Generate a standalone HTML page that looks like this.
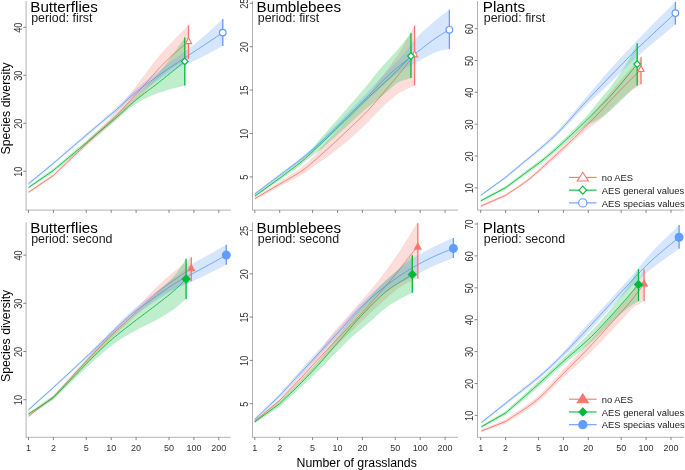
<!DOCTYPE html><html><head><meta charset="utf-8"><style>html,body{margin:0;padding:0;background:#fff;}svg{display:block;will-change:transform;}text{font-family:"Liberation Sans", sans-serif;}</style></head><body>
<svg width="685" height="470" viewBox="0 0 685 470">
<rect width="685" height="470" fill="#fff"/>
<path d="M28.5,192.3L53.4,175.5L54.92,174.04L56.45,172.58L57.98,171.12L59.5,169.67L61.02,168.21L62.55,166.75L64.08,165.29L65.6,163.83L67.12,162.37L68.65,160.91L70.17,159.45L71.7,157.99L73.22,156.54L74.75,155.08L76.28,153.62L77.8,152.16L79.33,150.7L80.85,149.24L82.38,147.79L83.9,146.33L85.42,144.87L86.95,143.41L88.47,141.96L90,140.5L91.53,139.04L93.06,137.6L94.59,136.16L96.12,134.72L97.65,133.29L99.18,131.86L100.71,130.43L102.24,129L103.76,127.56L105.29,126.12L106.82,124.67L108.35,123.21L109.88,121.74L111.41,120.25L112.94,118.75L114.47,117.24L116,115.7L117.51,114.16L119.03,112.6L120.54,111.01L122.06,109.42L123.57,107.8L125.09,106.18L126.6,104.54L128.11,102.9L129.63,101.25L131.14,99.6L132.66,97.95L134.17,96.3L135.69,94.65L137.2,93L138.73,91.33L140.26,89.63L141.79,87.92L143.33,86.19L144.86,84.46L146.39,82.71L147.92,80.96L149.45,79.22L150.98,77.47L152.52,75.73L154.05,74.01L155.58,72.29L157.11,70.6L158.64,68.92L160.17,67.28L161.71,65.65L163.24,64.07L164.77,62.51L166.3,61L167.89,59.47L169.47,57.99L171.06,56.53L172.64,55.1L174.23,53.7L175.81,52.31L177.4,50.95L178.99,49.59L180.57,48.23L182.16,46.88L183.74,45.53L185.33,44.16L186.91,42.79L188.5,41.4" fill="none" stroke="#F8766D" stroke-width="0.9" stroke-linejoin="round"/>
<path d="M28.5,187.6L53.4,170.4L54.92,169.12L56.45,167.84L57.98,166.56L59.5,165.29L61.02,164.01L62.55,162.73L64.08,161.45L65.6,160.18L67.12,158.9L68.65,157.62L70.17,156.35L71.7,155.07L73.22,153.79L74.75,152.51L76.28,151.23L77.8,149.95L79.33,148.67L80.85,147.39L82.38,146.11L83.9,144.83L85.42,143.55L86.95,142.27L88.47,140.98L90,139.7L91.53,138.41L93.06,137.13L94.59,135.84L96.12,134.56L97.65,133.28L99.18,132L100.71,130.71L102.24,129.43L103.76,128.14L105.29,126.85L106.82,125.56L108.35,124.26L109.88,122.96L111.41,121.66L112.94,120.34L114.47,119.03L116,117.7L117.61,116.29L119.22,114.85L120.83,113.4L122.43,111.94L124.04,110.47L125.65,109L127.26,107.54L128.87,106.08L130.48,104.65L132.08,103.24L133.69,101.85L135.3,100.5L136.84,99.23L138.39,97.99L139.93,96.77L141.48,95.57L143.02,94.38L144.56,93.21L146.11,92.04L147.65,90.88L149.19,89.73L150.74,88.57L152.28,87.41L153.82,86.25L155.37,85.08L156.91,83.9L158.46,82.71L160,81.5L161.56,80.27L163.11,79.03L164.67,77.78L166.22,76.53L167.78,75.27L169.34,74L170.89,72.74L172.45,71.47L174.01,70.2L175.56,68.92L177.12,67.65L178.68,66.38L180.23,65.1L181.79,63.83L183.34,62.56L184.9,61.3" fill="none" stroke="#00BA38" stroke-width="0.9" stroke-linejoin="round"/>
<path d="M28.5,183.8L53.4,163.3L54.92,161.99L56.45,160.68L57.98,159.37L59.5,158.06L61.02,156.75L62.55,155.43L64.08,154.12L65.6,152.81L67.12,151.49L68.65,150.18L70.17,148.87L71.7,147.55L73.22,146.24L74.75,144.93L76.28,143.62L77.8,142.31L79.33,141L80.85,139.7L82.38,138.39L83.9,137.09L85.42,135.79L86.95,134.49L88.47,133.19L90,131.9L91.53,130.6L93.07,129.32L94.6,128.03L96.13,126.76L97.67,125.48L99.2,124.21L100.73,122.93L102.27,121.66L103.8,120.38L105.33,119.1L106.87,117.82L108.4,116.53L109.93,115.23L111.47,113.92L113,112.6L114.57,111.23L116.14,109.83L117.71,108.41L119.29,106.98L120.86,105.54L122.43,104.09L124,102.65L125.57,101.21L127.14,99.79L128.71,98.37L130.29,96.99L131.86,95.62L133.43,94.29L135,93L136.56,91.74L138.12,90.51L139.69,89.29L141.25,88.09L142.81,86.9L144.38,85.73L145.94,84.57L147.5,83.42L149.06,82.28L150.62,81.15L152.19,80.03L153.75,78.92L155.31,77.81L156.88,76.7L158.44,75.6L160,74.5L161.54,73.42L163.08,72.35L164.62,71.3L166.15,70.25L167.69,69.21L169.23,68.17L170.77,67.14L172.31,66.12L173.85,65.09L175.38,64.07L176.92,63.05L178.46,62.03L180,61L181.56,59.96L183.12,58.92L184.69,57.89L186.25,56.85L187.81,55.82L189.38,54.79L190.94,53.77L192.5,52.74L194.06,51.71L195.62,50.69L197.19,49.66L198.75,48.63L200.31,47.6L201.88,46.57L203.44,45.54L205,44.5L206.62,43.42L208.24,42.35L209.85,41.26L211.47,40.18L213.09,39.1L214.71,38.02L216.33,36.93L217.95,35.85L219.56,34.77L221.18,33.68L222.8,32.6" fill="none" stroke="#619CFF" stroke-width="0.9" stroke-linejoin="round"/>
<path d="M28.5,191L30,189.97L31.49,188.95L32.99,187.92L34.48,186.89L35.98,185.87L37.47,184.84L38.97,183.81L40.46,182.78L41.96,181.76L43.45,180.73L44.95,179.7L46.44,178.68L47.94,177.65L49.43,176.62L50.93,175.6L52.43,174.57L53.4,173.9L53.92,173.39L55.42,171.92L56.91,170.46L58.41,169L59.9,167.53L61.4,166.07L62.89,164.61L64.39,163.15L65.88,161.69L67.38,160.22L68.87,158.76L70.37,157.3L71.86,155.84L73.36,154.37L74.86,152.91L76.35,151.45L77.85,149.98L79.34,148.51L80.84,147.04L82.33,145.57L83.83,144.1L85.32,142.63L86.82,141.15L88.31,139.67L89.81,138.19L91.3,136.71L92.8,135.23L94.29,133.75L95.79,132.28L97.29,130.8L98.78,129.31L100.28,127.82L101.77,126.33L103.27,124.82L104.76,123.3L106.26,121.77L107.75,120.22L109.25,118.64L110.74,117.03L112.24,115.39L113.73,113.71L115.23,112L116.72,110.26L118.22,108.49L119.71,106.69L121.21,104.86L122.71,103.01L124.2,101.14L125.7,99.25L127.19,97.36L128.69,95.45L130.18,93.54L131.68,91.63L133.17,89.72L134.67,87.81L136.16,85.91L137.66,83.99L139.15,82.04L140.65,80.05L142.14,78.05L143.64,76.02L145.14,73.99L146.63,71.96L148.13,69.93L149.62,67.92L151.12,65.94L152.61,63.98L154.11,62.06L155.6,60.19L157.1,58.36L158.59,56.57L160.09,54.81L161.58,53.09L163.08,51.4L164.57,49.75L166.07,48.13L167.57,46.54L169.06,44.98L170.56,43.42L172.05,41.88L173.55,40.36L175.04,38.84L176.54,37.34L178.03,35.84L179.53,34.34L181.02,32.84L182.52,31.35L184.01,29.84L185.51,28.34L187,26.82L188.5,25.3L188.5,58.8L187,59.67L185.51,60.51L184.01,61.34L182.52,62.15L181.02,62.96L179.53,63.78L178.03,64.6L176.54,65.44L175.04,66.31L173.55,67.21L172.05,68.14L170.56,69.12L169.06,70.15L167.57,71.22L166.07,72.34L164.57,73.51L163.08,74.73L161.58,75.99L160.09,77.28L158.59,78.62L157.1,79.98L155.6,81.37L154.11,82.79L152.61,84.22L151.12,85.66L149.62,87.11L148.13,88.58L146.63,90.04L145.14,91.51L143.64,92.99L142.14,94.45L140.65,95.92L139.15,97.37L137.66,98.82L136.16,100.26L134.67,101.72L133.17,103.18L131.68,104.65L130.18,106.13L128.69,107.6L127.19,109.08L125.7,110.55L124.2,112.02L122.71,113.48L121.21,114.93L119.71,116.36L118.22,117.79L116.72,119.2L115.23,120.59L113.73,121.96L112.24,123.32L110.74,124.67L109.25,126.01L107.75,127.34L106.26,128.66L104.76,129.97L103.27,131.27L101.77,132.57L100.28,133.88L98.78,135.18L97.29,136.49L95.79,137.8L94.29,139.12L92.8,140.46L91.3,141.81L89.81,143.18L88.31,144.55L86.82,145.93L85.32,147.31L83.83,148.69L82.33,150.08L80.84,151.47L79.34,152.86L77.85,154.25L76.35,155.65L74.86,157.04L73.36,158.44L71.86,159.84L70.37,161.23L68.87,162.63L67.38,164.03L65.88,165.43L64.39,166.83L62.89,168.23L61.4,169.63L59.9,171.03L58.41,172.43L56.91,173.82L55.42,175.22L53.92,176.61L53.4,177.1L52.43,177.75L50.93,178.74L49.43,179.73L47.94,180.72L46.44,181.71L44.95,182.7L43.45,183.69L41.96,184.68L40.46,185.67L38.97,186.66L37.47,187.65L35.98,188.65L34.48,189.64L32.99,190.63L31.49,191.62L30,192.61L28.5,193.6Z" fill="#F8766D" fill-opacity="0.25"/>
<path d="M28.5,186.4L29.99,185.34L31.48,184.27L32.97,183.21L34.46,182.14L35.95,181.08L37.44,180.01L38.93,178.95L40.42,177.88L41.91,176.82L43.4,175.75L44.88,174.69L46.37,173.62L47.86,172.56L49.35,171.49L50.84,170.43L52.33,169.36L53.4,168.6L53.82,168.24L55.31,166.98L56.8,165.71L58.29,164.45L59.78,163.18L61.27,161.92L62.76,160.66L64.25,159.39L65.74,158.13L67.23,156.87L68.72,155.61L70.21,154.34L71.7,153.08L73.19,151.81L74.68,150.55L76.16,149.29L77.65,148.02L79.14,146.75L80.63,145.49L82.12,144.22L83.61,142.95L85.1,141.68L86.59,140.41L88.08,139.14L89.57,137.87L91.06,136.59L92.55,135.32L94.04,134.06L95.53,132.79L97.02,131.53L98.51,130.26L100,128.99L101.49,127.72L102.98,126.45L104.47,125.18L105.96,123.9L107.44,122.61L108.93,121.32L110.42,120.01L111.91,118.7L113.4,117.38L114.89,116.03L116.38,114.67L117.87,113.28L119.36,111.86L120.85,110.43L122.34,108.97L123.83,107.5L125.32,106.02L126.81,104.55L128.3,103.07L129.79,101.59L131.28,100.11L132.77,98.63L134.26,97.16L135.75,95.71L137.24,94.26L138.72,92.81L140.21,91.37L141.7,89.94L143.19,88.5L144.68,87.06L146.17,85.62L147.66,84.17L149.15,82.72L150.64,81.24L152.13,79.72L153.62,78.15L155.11,76.55L156.6,74.9L158.09,73.22L159.58,71.49L161.07,69.73L162.56,67.93L164.05,66.12L165.54,64.28L167.03,62.42L168.52,60.48L170,58.5L171.49,56.47L172.98,54.39L174.47,52.29L175.96,50.16L177.45,48.02L178.94,45.87L180.43,43.73L181.92,41.6L183.41,39.49L184.9,37.4L184.9,85.6L183.41,85.97L181.92,86.34L180.43,86.69L178.94,87.04L177.45,87.39L175.96,87.74L174.47,88.1L172.98,88.48L171.49,88.87L170,89.28L168.52,89.71L167.03,90.17L165.54,90.66L164.05,91.15L162.56,91.64L161.07,92.12L159.58,92.62L158.09,93.11L156.6,93.62L155.11,94.14L153.62,94.69L152.13,95.28L150.64,95.91L149.15,96.6L147.66,97.32L146.17,98.06L144.68,98.81L143.19,99.58L141.7,100.38L140.21,101.21L138.72,102.07L137.24,102.97L135.75,103.92L134.26,104.91L132.77,105.96L131.28,107.06L129.79,108.22L128.3,109.42L126.81,110.66L125.32,111.91L123.83,113.17L122.34,114.43L120.85,115.7L119.36,116.96L117.87,118.22L116.38,119.47L114.89,120.72L113.4,121.97L111.91,123.23L110.42,124.5L108.93,125.77L107.44,127.03L105.96,128.29L104.47,129.55L102.98,130.81L101.49,132.06L100,133.31L98.51,134.56L97.02,135.81L95.53,137.06L94.04,138.3L92.55,139.56L91.06,140.81L89.57,142.06L88.08,143.32L86.59,144.57L85.1,145.82L83.61,147.06L82.12,148.31L80.63,149.55L79.14,150.8L77.65,152.04L76.16,153.28L74.68,154.52L73.19,155.76L71.7,157L70.21,158.23L68.72,159.47L67.23,160.71L65.74,161.94L64.25,163.18L62.76,164.42L61.27,165.65L59.78,166.89L58.29,168.13L56.8,169.37L55.31,170.61L53.82,171.85L53.4,172.2L52.33,172.91L50.84,173.9L49.35,174.9L47.86,175.89L46.37,176.88L44.88,177.88L43.4,178.87L41.91,179.86L40.42,180.86L38.93,181.85L37.44,182.84L35.95,183.83L34.46,184.83L32.97,185.82L31.48,186.81L29.99,187.81L28.5,188.8Z" fill="#00BA38" fill-opacity="0.25"/>
<path d="M28.5,182.6L29.99,181.36L31.49,180.11L32.98,178.87L34.48,177.63L35.97,176.39L37.47,175.14L38.96,173.9L40.46,172.66L41.95,171.42L43.45,170.17L44.94,168.93L46.44,167.69L47.93,166.45L49.42,165.2L50.92,163.96L52.41,162.72L53.4,161.9L53.91,161.46L55.4,160.17L56.9,158.88L58.39,157.59L59.89,156.29L61.38,155L62.88,153.71L64.37,152.41L65.87,151.12L67.36,149.82L68.85,148.53L70.35,147.24L71.84,145.94L73.34,144.65L74.83,143.36L76.33,142.07L77.82,140.78L79.32,139.49L80.81,138.2L82.31,136.91L83.8,135.62L85.3,134.34L86.79,133.05L88.28,131.77L89.78,130.49L91.27,129.21L92.77,127.94L94.26,126.67L95.76,125.4L97.25,124.14L98.75,122.88L100.24,121.61L101.74,120.35L103.23,119.07L104.73,117.8L106.22,116.52L107.71,115.23L109.21,113.93L110.7,112.63L112.2,111.31L113.69,109.98L115.19,108.62L116.68,107.23L118.18,105.82L119.67,104.4L121.17,102.96L122.66,101.52L124.16,100.07L125.65,98.63L127.14,97.2L128.64,95.78L130.13,94.38L131.63,93L133.12,91.65L134.62,90.33L136.11,89.05L137.61,87.78L139.1,86.53L140.6,85.29L142.09,84.06L143.59,82.85L145.08,81.65L146.57,80.45L148.07,79.27L149.56,78.09L151.06,76.92L152.55,75.76L154.05,74.6L155.54,73.44L157.04,72.29L158.53,71.13L160.03,69.98L161.52,68.83L163.02,67.69L164.51,66.56L166,65.43L167.5,64.31L168.99,63.2L170.49,62.09L171.98,60.97L173.48,59.86L174.97,58.75L176.47,57.64L177.96,56.53L179.46,55.41L180.95,54.29L182.45,53.17L183.94,52.06L185.43,50.95L186.93,49.84L188.42,48.72L189.92,47.6L191.41,46.47L192.91,45.34L194.4,44.19L195.9,43.02L197.39,41.83L198.89,40.61L200.38,39.36L201.88,38.09L203.37,36.79L204.86,35.47L206.36,34.13L207.85,32.77L209.35,31.4L210.84,30.02L212.34,28.63L213.83,27.24L215.33,25.85L216.82,24.47L218.32,23.08L219.81,21.71L221.31,20.35L222.8,19L222.8,46L221.31,46.79L219.81,47.57L218.32,48.37L216.82,49.17L215.33,49.96L213.83,50.76L212.34,51.56L210.84,52.36L209.35,53.15L207.85,53.94L206.36,54.73L204.86,55.51L203.37,56.28L201.88,57.04L200.38,57.79L198.89,58.54L197.39,59.27L195.9,59.99L194.4,60.68L192.91,61.33L191.41,61.95L189.92,62.55L188.42,63.15L186.93,63.76L185.43,64.38L183.94,65.04L182.45,65.74L180.95,66.49L179.46,67.3L177.96,68.14L176.47,68.99L174.97,69.85L173.48,70.72L171.98,71.6L170.49,72.5L168.99,73.4L167.5,74.31L166,75.23L164.51,76.16L163.02,77.09L161.52,78.03L160.03,78.98L158.53,79.94L157.04,80.89L155.54,81.85L154.05,82.82L152.55,83.79L151.06,84.76L149.56,85.75L148.07,86.74L146.57,87.75L145.08,88.76L143.59,89.79L142.09,90.83L140.6,91.89L139.1,92.96L137.61,94.05L136.11,95.16L134.62,96.29L133.12,97.45L131.63,98.64L130.13,99.86L128.64,101.11L127.14,102.37L125.65,103.65L124.16,104.94L122.66,106.24L121.17,107.55L119.67,108.86L118.18,110.16L116.68,111.46L115.19,112.74L113.69,114.02L112.2,115.27L110.7,116.52L109.21,117.75L107.71,118.98L106.22,120.21L104.73,121.43L103.23,122.64L101.74,123.86L100.24,125.07L98.75,126.29L97.25,127.51L95.76,128.73L94.26,129.96L92.77,131.19L91.27,132.44L89.78,133.69L88.28,134.94L86.79,136.2L85.3,137.46L83.8,138.73L82.31,139.99L80.81,141.26L79.32,142.54L77.82,143.81L76.33,145.08L74.83,146.36L73.34,147.64L71.84,148.92L70.35,150.19L68.85,151.48L67.36,152.76L65.87,154.04L64.37,155.32L62.88,156.6L61.38,157.88L59.89,159.16L58.39,160.44L56.9,161.71L55.4,162.99L53.91,164.27L53.4,164.7L52.41,165.5L50.92,166.72L49.42,167.94L47.93,169.16L46.44,170.38L44.94,171.6L43.45,172.81L41.95,174.03L40.46,175.25L38.96,176.47L37.47,177.69L35.97,178.91L34.48,180.13L32.98,181.34L31.49,182.56L29.99,183.78L28.5,185Z" fill="#619CFF" fill-opacity="0.25"/>
<line x1="188.5" y1="25.3" x2="188.5" y2="58.8" stroke="#F8766D" stroke-width="1.3"/>
<line x1="184.8" y1="37.4" x2="184.8" y2="85.6" stroke="#00BA38" stroke-width="1.3"/>
<line x1="222.8" y1="19" x2="222.8" y2="46" stroke="#619CFF" stroke-width="1.3"/>
<path d="M188.5,37.8L191.6,43.6L185.4,43.6Z" fill="#fff" stroke="#F8766D" stroke-width="1.1"/>
<path d="M184.8,58.1L188.1,61.4L184.8,64.7L181.5,61.4Z" fill="#fff" stroke="#00BA38" stroke-width="1.2"/>
<circle cx="222.8" cy="32.6" r="3.3" fill="#fff" stroke="#619CFF" stroke-width="1.2"/>
<line x1="26.1" y1="1" x2="26.1" y2="210.1" stroke="#b3b3b3" stroke-width="1"/>
<line x1="25.6" y1="210.1" x2="230.7" y2="210.1" stroke="#b3b3b3" stroke-width="1"/>
<line x1="23.3" y1="171.3" x2="26.1" y2="171.3" stroke="#666" stroke-width="0.8"/>
<text transform="translate(21.8,171.7) rotate(-90) scale(1,1.12)" font-size="9.2" fill="#333" text-anchor="middle">10</text>
<line x1="23.3" y1="123.3" x2="26.1" y2="123.3" stroke="#666" stroke-width="0.8"/>
<text transform="translate(21.8,123.7) rotate(-90) scale(1,1.12)" font-size="9.2" fill="#333" text-anchor="middle">20</text>
<line x1="23.3" y1="75.3" x2="26.1" y2="75.3" stroke="#666" stroke-width="0.8"/>
<text transform="translate(21.8,75.7) rotate(-90) scale(1,1.12)" font-size="9.2" fill="#333" text-anchor="middle">30</text>
<line x1="23.3" y1="27.3" x2="26.1" y2="27.3" stroke="#666" stroke-width="0.8"/>
<text transform="translate(21.8,27.7) rotate(-90) scale(1,1.12)" font-size="9.2" fill="#333" text-anchor="middle">40</text>
<line x1="28.5" y1="210.1" x2="28.5" y2="212.9" stroke="#666" stroke-width="0.8"/>
<line x1="53.4" y1="210.1" x2="53.4" y2="212.9" stroke="#666" stroke-width="0.8"/>
<line x1="86.3" y1="210.1" x2="86.3" y2="212.9" stroke="#666" stroke-width="0.8"/>
<line x1="111.2" y1="210.1" x2="111.2" y2="212.9" stroke="#666" stroke-width="0.8"/>
<line x1="136.1" y1="210.1" x2="136.1" y2="212.9" stroke="#666" stroke-width="0.8"/>
<line x1="169" y1="210.1" x2="169" y2="212.9" stroke="#666" stroke-width="0.8"/>
<line x1="193.9" y1="210.1" x2="193.9" y2="212.9" stroke="#666" stroke-width="0.8"/>
<line x1="218.8" y1="210.1" x2="218.8" y2="212.9" stroke="#666" stroke-width="0.8"/>
<text x="30.3" y="11.5" font-size="15.2" fill="#000">Butterflies</text>
<text x="31.2" y="22.3" font-size="12.4" fill="#1a1a1a">period: first</text>
<text transform="translate(9.9,108.4) rotate(-90)" font-size="12.3" fill="#000" text-anchor="middle">Species diversity</text>
<path d="M254.8,198.7L279.7,184.1L281.22,183.19L282.74,182.3L284.26,181.42L285.77,180.55L287.29,179.69L288.81,178.83L290.33,177.96L291.85,177.09L293.37,176.21L294.89,175.31L296.41,174.4L297.93,173.46L299.44,172.49L300.96,171.5L302.48,170.47L304,169.4L305.6,168.21L307.2,166.96L308.8,165.64L310.4,164.28L312,162.88L313.6,161.45L315.2,160.01L316.8,158.56L318.4,157.12L320,155.7L321.54,154.34L323.08,152.97L324.62,151.6L326.15,150.21L327.69,148.82L329.23,147.43L330.77,146.02L332.31,144.62L333.85,143.2L335.38,141.78L336.92,140.36L338.46,138.93L340,137.5L341.58,136.02L343.16,134.53L344.75,133.04L346.33,131.54L347.91,130.03L349.49,128.51L351.07,127L352.65,125.48L354.24,123.95L355.82,122.43L357.4,120.9L358.92,119.44L360.44,118L361.96,116.54L363.48,115.04L365,113.5L366.5,111.93L368,110.34L369.5,108.72L371,107.08L372.5,105.42L374,103.74L375.5,102.04L377,100.33L378.5,98.6L380,96.86L381.5,95.1L383,93.34L384.5,91.56L386,89.78L387.5,87.99L389,86.2L390.5,84.4L392,82.6L393.5,80.8L395,79L396.5,77.19L398,75.36L399.5,73.52L401,71.66L402.5,69.79L404,67.91L405.5,66.02L407,64.13L408.5,62.24L410,60.34L411.5,58.46L413,56.57L414.5,54.7" fill="none" stroke="#F8766D" stroke-width="0.9" stroke-linejoin="round"/>
<path d="M254.8,196.1L279.7,178.2L281.22,177.04L282.74,175.89L284.26,174.75L285.77,173.61L287.29,172.48L288.81,171.35L290.33,170.22L291.85,169.08L293.37,167.94L294.89,166.78L296.41,165.62L297.93,164.43L299.44,163.23L300.96,162.01L302.48,160.77L304,159.5L305.6,158.13L307.2,156.71L308.8,155.27L310.4,153.79L312,152.3L313.6,150.78L315.2,149.26L316.8,147.74L318.4,146.22L320,144.7L321.53,143.25L323.07,141.79L324.6,140.33L326.13,138.87L327.67,137.4L329.2,135.92L330.73,134.44L332.27,132.96L333.8,131.47L335.33,129.98L336.87,128.49L338.4,126.99L339.93,125.5L341.47,124L343,122.5L344.57,120.96L346.14,119.4L347.71,117.84L349.29,116.28L350.86,114.71L352.43,113.13L354,111.56L355.57,109.99L357.14,108.42L358.71,106.85L360.29,105.3L361.86,103.75L363.43,102.22L365,100.7L366.5,99.26L368,97.84L369.5,96.44L371,95.04L372.5,93.65L374,92.27L375.5,90.9L377,89.53L378.5,88.16L380,86.79L381.5,85.42L383,84.05L384.5,82.67L386,81.29L387.5,79.89L389,78.48L390.5,77.06L392,75.62L393.5,74.17L395,72.7L396.6,71.1L398.2,69.48L399.8,67.84L401.4,66.17L403,64.5L404.6,62.82L406.2,61.13L407.8,59.45L409.4,57.77L411,56.1" fill="none" stroke="#00BA38" stroke-width="0.9" stroke-linejoin="round"/>
<path d="M254.8,194L279.7,175.2L281.25,174.03L282.81,172.87L284.36,171.72L285.92,170.56L287.47,169.41L289.02,168.25L290.58,167.09L292.13,165.93L293.68,164.76L295.24,163.59L296.79,162.4L298.35,161.21L299.9,160L301.4,158.83L302.9,157.65L304.4,156.47L305.9,155.27L307.4,154.06L308.9,152.83L310.4,151.58L311.9,150.3L313.46,148.94L315.02,147.57L316.58,146.17L318.14,144.75L319.71,143.31L321.27,141.86L322.83,140.4L324.39,138.92L325.95,137.43L327.51,135.94L329.07,134.43L330.63,132.92L332.19,131.4L333.76,129.88L335.32,128.36L336.88,126.84L338.44,125.32L340,123.8L341.56,122.28L343.12,120.74L344.69,119.19L346.25,117.64L347.81,116.07L349.38,114.51L350.94,112.93L352.5,111.35L354.06,109.78L355.62,108.2L357.19,106.62L358.75,105.04L360.31,103.47L361.88,101.91L363.44,100.35L365,98.8L366.5,97.31L368,95.81L369.5,94.3L371,92.78L372.5,91.26L374,89.73L375.5,88.21L377,86.69L378.5,85.17L380,83.66L381.5,82.16L383,80.67L384.5,79.2L386,77.75L387.5,76.31L389,74.89L390.5,73.5L392,72.14L393.5,70.8L395,69.5L396.6,68.15L398.2,66.83L399.8,65.55L401.4,64.3L403,63.07L404.6,61.85L406.2,60.64L407.8,59.43L409.4,58.22L411,57L412.53,55.83L414.05,54.64L415.58,53.45L417.11,52.26L418.63,51.06L420.16,49.86L421.68,48.67L423.21,47.48L424.74,46.29L426.26,45.12L427.79,43.95L429.32,42.8L430.84,41.67L432.37,40.55L433.89,39.45L435.42,38.37L436.95,37.32L438.47,36.3L440,35.3L441.57,34.32L443.13,33.39L444.7,32.48L446.27,31.59L447.83,30.7L449.4,29.8" fill="none" stroke="#619CFF" stroke-width="0.9" stroke-linejoin="round"/>
<path d="M254.8,197.4L256.29,196.45L257.79,195.51L259.28,194.56L260.77,193.61L262.26,192.66L263.76,191.72L265.25,190.77L266.74,189.82L268.23,188.88L269.73,187.93L271.22,186.98L272.71,186.04L274.2,185.09L275.7,184.14L277.19,183.19L278.68,182.25L279.7,181.6L280.17,181.29L281.67,180.31L283.16,179.36L284.65,178.42L286.14,177.5L287.64,176.58L289.13,175.66L290.62,174.74L292.11,173.82L293.61,172.88L295.1,171.93L296.59,170.95L298.08,169.95L299.58,168.91L301.07,167.84L302.56,166.73L304.05,165.58L305.55,164.36L307.04,163.07L308.53,161.71L310.02,160.3L311.52,158.85L313.01,157.31L314.5,155.62L315.99,153.84L317.49,151.99L318.98,150.14L320.47,148.34L321.96,146.59L323.46,144.95L324.95,143.35L326.44,141.77L327.93,140.2L329.43,138.65L330.92,137.09L332.41,135.54L333.9,133.99L335.4,132.42L336.89,130.85L338.38,129.25L339.87,127.64L341.37,125.99L342.86,124.32L344.35,122.63L345.84,120.93L347.34,119.22L348.83,117.52L350.32,115.83L351.81,114.16L353.31,112.5L354.8,110.86L356.29,109.23L357.78,107.6L359.28,105.98L360.77,104.35L362.26,102.69L363.75,100.99L365.25,99.19L366.74,97.32L368.23,95.36L369.72,93.36L371.22,91.31L372.71,89.24L374.2,87.17L375.69,85.11L377.19,83.08L378.68,81.07L380.17,79.09L381.66,77.11L383.16,75.14L384.65,73.16L386.14,71.18L387.63,69.19L389.13,67.18L390.62,65.15L392.11,63.09L393.6,60.99L395.1,58.86L396.59,56.63L398.08,54.31L399.57,51.89L401.07,49.4L402.56,46.84L404.05,44.23L405.54,41.58L407.04,38.91L408.53,36.23L410.02,33.56L411.51,30.9L413.01,28.28L414.5,25.7L414.5,85.5L413.01,86.27L411.51,87L410.02,87.69L408.53,88.36L407.04,89.02L405.54,89.7L404.05,90.39L402.56,91.13L401.07,91.92L399.57,92.79L398.08,93.72L396.59,94.77L395.1,95.92L393.6,97.16L392.11,98.41L390.62,99.69L389.13,100.99L387.63,102.32L386.14,103.68L384.65,105.06L383.16,106.47L381.66,107.92L380.17,109.39L378.68,110.9L377.19,112.44L375.69,114L374.2,115.56L372.71,117.12L371.22,118.67L369.72,120.22L368.23,121.75L366.74,123.26L365.25,124.75L363.75,126.21L362.26,127.63L360.77,129.03L359.28,130.41L357.78,131.79L356.29,133.19L354.8,134.58L353.31,135.96L351.81,137.33L350.32,138.67L348.83,139.96L347.34,141.2L345.84,142.41L344.35,143.59L342.86,144.76L341.37,145.93L339.87,147.1L338.38,148.28L336.89,149.46L335.4,150.64L333.9,151.81L332.41,152.98L330.92,154.14L329.43,155.29L327.93,156.42L326.44,157.54L324.95,158.64L323.46,159.71L321.96,160.76L320.47,161.73L318.98,162.66L317.49,163.6L315.99,164.56L314.5,165.57L313.01,166.63L311.52,167.76L310.02,168.91L308.53,170.03L307.04,171.13L305.55,172.17L304.05,173.17L302.56,174.12L301.07,175.04L299.58,175.93L298.08,176.8L296.59,177.64L295.1,178.47L293.61,179.28L292.11,180.08L290.62,180.87L289.13,181.65L287.64,182.42L286.14,183.2L284.65,183.97L283.16,184.76L281.67,185.54L280.17,186.34L279.7,186.6L278.68,187.15L277.19,187.95L275.7,188.76L274.2,189.56L272.71,190.36L271.22,191.16L269.73,191.97L268.23,192.77L266.74,193.57L265.25,194.38L263.76,195.18L262.26,195.98L260.77,196.79L259.28,197.59L257.79,198.39L256.29,199.2L254.8,200Z" fill="#F8766D" fill-opacity="0.25"/>
<path d="M254.8,194.9L256.29,193.78L257.78,192.66L259.26,191.54L260.75,190.43L262.24,189.31L263.73,188.19L265.21,187.07L266.7,185.95L268.19,184.83L269.68,183.71L271.16,182.6L272.65,181.48L274.14,180.36L275.63,179.24L277.11,178.12L278.6,177L279.7,176.17L280.09,175.85L281.58,174.66L283.06,173.48L284.55,172.31L286.04,171.14L287.53,169.99L289.02,168.83L290.5,167.68L291.99,166.52L293.48,165.35L294.97,164.17L296.45,162.97L297.94,161.76L299.43,160.52L300.92,159.27L302.4,157.98L303.89,156.66L305.38,155.3L306.87,153.9L308.35,152.46L309.84,150.99L311.33,149.48L312.82,147.92L314.3,146.22L315.79,144.43L317.28,142.59L318.77,140.76L320.26,139.01L321.74,137.29L323.23,135.59L324.72,133.88L326.21,132.18L327.69,130.48L329.18,128.79L330.67,127.09L332.16,125.39L333.64,123.7L335.13,122L336.62,120.3L338.11,118.6L339.59,116.9L341.08,115.19L342.57,113.5L344.06,111.82L345.54,110.13L347.03,108.44L348.52,106.75L350.01,105.05L351.5,103.35L352.98,101.65L354.47,99.94L355.96,98.23L357.45,96.51L358.93,94.79L360.42,93.06L361.91,91.33L363.4,89.58L364.88,87.84L366.37,86.06L367.86,84.22L369.35,82.35L370.83,80.45L372.32,78.53L373.81,76.61L375.3,74.7L376.78,72.81L378.27,70.95L379.76,69.15L381.25,67.41L382.74,65.74L384.22,64.14L385.71,62.57L387.2,61.02L388.69,59.47L390.17,57.92L391.66,56.35L393.15,54.75L394.64,53.11L396.12,51.42L397.61,49.68L399.1,47.91L400.59,46.1L402.07,44.28L403.56,42.43L405.05,40.58L406.54,38.72L408.02,36.87L409.51,35.03L411,33.2L411,77.9L409.51,78.47L408.02,78.97L406.54,79.42L405.05,79.84L403.56,80.28L402.07,80.77L400.59,81.33L399.1,82.01L397.61,82.83L396.12,83.82L394.64,85.01L393.15,86.29L391.66,87.58L390.17,88.88L388.69,90.19L387.2,91.48L385.71,92.77L384.22,94.03L382.74,95.27L381.25,96.48L379.76,97.68L378.27,98.87L376.78,100.06L375.3,101.24L373.81,102.42L372.32,103.62L370.83,104.82L369.35,106.03L367.86,107.27L366.37,108.52L364.88,109.8L363.4,111.1L361.91,112.42L360.42,113.76L358.93,115.1L357.45,116.46L355.96,117.83L354.47,119.2L352.98,120.57L351.5,121.95L350.01,123.32L348.52,124.7L347.03,126.06L345.54,127.43L344.06,128.78L342.57,130.12L341.08,131.46L339.59,132.8L338.11,134.14L336.62,135.48L335.13,136.83L333.64,138.18L332.16,139.53L330.67,140.87L329.18,142.2L327.69,143.53L326.21,144.84L324.72,146.13L323.23,147.41L321.74,148.66L320.26,149.89L318.77,151.04L317.28,152.07L315.79,153.05L314.3,154.04L312.82,155.14L311.33,156.37L309.84,157.63L308.35,158.88L306.87,160.12L305.38,161.33L303.89,162.52L302.4,163.69L300.92,164.84L299.43,165.97L297.94,167.08L296.45,168.19L294.97,169.28L293.48,170.36L291.99,171.43L290.5,172.5L289.02,173.56L287.53,174.62L286.04,175.68L284.55,176.74L283.06,177.81L281.58,178.87L280.09,179.95L279.7,180.23L278.6,180.98L277.11,182L275.63,183.02L274.14,184.04L272.65,185.06L271.16,186.08L269.68,187.1L268.19,188.12L266.7,189.14L265.21,190.16L263.73,191.18L262.24,192.2L260.75,193.22L259.26,194.24L257.78,195.26L256.29,196.28L254.8,197.3Z" fill="#00BA38" fill-opacity="0.25"/>
<path d="M254.8,192.8L256.3,191.65L257.79,190.5L259.29,189.35L260.79,188.2L262.28,187.06L263.78,185.91L265.28,184.76L266.78,183.61L268.27,182.46L269.77,181.31L271.27,180.16L272.76,179.01L274.26,177.87L275.76,176.72L277.25,175.57L278.75,174.42L279.7,173.69L280.25,173.27L281.74,172.13L283.24,170.99L284.74,169.85L286.24,168.72L287.73,167.59L289.23,166.46L290.73,165.32L292.22,164.18L293.72,163.04L295.22,161.88L296.71,160.72L298.21,159.55L299.71,158.37L301.2,157.17L302.7,155.98L304.2,154.77L305.7,153.55L307.19,152.32L308.69,151.07L310.19,149.79L311.68,148.49L313.18,147.16L314.68,145.81L316.17,144.43L317.67,143.03L319.17,141.61L320.66,140.18L322.16,138.73L323.66,137.26L325.16,135.78L326.65,134.29L328.15,132.8L329.65,131.29L331.14,129.78L332.64,128.26L334.14,126.74L335.63,125.22L337.13,123.7L338.63,122.19L340.12,120.67L341.62,119.16L343.12,117.63L344.62,116.09L346.11,114.55L347.61,113L349.11,111.44L350.6,109.88L352.1,108.31L353.6,106.74L355.09,105.17L356.59,103.6L358.09,102.03L359.58,100.45L361.08,98.89L362.58,97.32L364.08,95.76L365.57,94.2L367.07,92.64L368.57,91.07L370.06,89.49L371.56,87.91L373.06,86.32L374.55,84.72L376.05,83.13L377.55,81.54L379.04,79.95L380.54,78.36L382.04,76.78L383.54,75.2L385.03,73.63L386.53,72.07L388.03,70.52L389.52,68.99L391.02,67.47L392.52,65.96L394.01,64.47L395.51,62.99L397.01,61.47L398.5,59.88L400,58.25L401.5,56.57L403,54.86L404.49,53.13L405.99,51.32L407.49,49.24L408.98,47.02L410.48,44.79L411.98,42.65L413.47,40.78L414.97,39.17L416.47,37.64L417.96,36.14L419.46,34.68L420.96,33.24L422.46,31.83L423.95,30.44L425.45,29.09L426.95,27.75L428.44,26.43L429.94,25.14L431.44,23.86L432.93,22.6L434.43,21.35L435.93,20.11L437.42,18.89L438.92,17.67L440.42,16.47L441.92,15.29L443.41,14.15L444.91,13.04L446.41,11.93L447.9,10.82L449.4,9.7L449.4,48.9L447.9,49.17L446.41,49.42L444.91,49.67L443.41,49.94L441.92,50.26L440.42,50.67L438.92,51.17L437.42,51.72L435.93,52.31L434.43,52.95L432.93,53.62L431.44,54.32L429.94,55.04L428.44,55.8L426.95,56.57L425.45,57.37L423.95,58.18L422.46,59L420.96,59.83L419.46,60.66L417.96,61.49L416.47,62.33L414.97,63.15L413.47,63.97L411.98,64.76L410.48,65.53L408.98,66.31L407.49,67.11L405.99,67.95L404.49,68.86L403,69.81L401.5,70.8L400,71.82L398.5,72.88L397.01,73.98L395.51,75.11L394.01,76.27L392.52,77.48L391.02,78.71L389.52,79.97L388.03,81.26L386.53,82.57L385.03,83.91L383.54,85.27L382.04,86.64L380.54,88.03L379.04,89.43L377.55,90.85L376.05,92.27L374.55,93.7L373.06,95.13L371.56,96.56L370.06,98L368.57,99.42L367.07,100.85L365.57,102.26L364.08,103.67L362.58,105.09L361.08,106.52L359.58,107.95L358.09,109.4L356.59,110.84L355.09,112.3L353.6,113.75L352.1,115.21L350.6,116.66L349.11,118.11L347.61,119.56L346.11,121L344.62,122.44L343.12,123.86L341.62,125.28L340.12,126.68L338.63,128.08L337.13,129.48L335.63,130.88L334.14,132.28L332.64,133.68L331.14,135.07L329.65,136.46L328.15,137.85L326.65,139.23L325.16,140.6L323.66,141.97L322.16,143.33L320.66,144.67L319.17,146.01L317.67,147.33L316.17,148.64L314.68,149.94L313.18,151.22L311.68,152.48L310.19,153.72L308.69,154.94L307.19,156.13L305.7,157.31L304.2,158.48L302.7,159.63L301.2,160.78L299.71,161.93L298.21,163.07L296.71,164.2L295.22,165.32L293.72,166.44L292.22,167.54L290.73,168.64L289.23,169.74L287.73,170.83L286.24,171.93L284.74,173.02L283.24,174.11L281.74,175.21L280.25,176.31L279.7,176.71L278.75,177.41L277.25,178.53L275.76,179.64L274.26,180.75L272.76,181.86L271.27,182.97L269.77,184.08L268.27,185.2L266.78,186.31L265.28,187.42L263.78,188.53L262.28,189.64L260.79,190.75L259.29,191.87L257.79,192.98L256.3,194.09L254.8,195.2Z" fill="#619CFF" fill-opacity="0.25"/>
<line x1="414.6" y1="25.7" x2="414.6" y2="85.5" stroke="#F8766D" stroke-width="1.3"/>
<line x1="411" y1="33.2" x2="411" y2="77.9" stroke="#00BA38" stroke-width="1.3"/>
<line x1="449.4" y1="9.7" x2="449.4" y2="48.9" stroke="#619CFF" stroke-width="1.3"/>
<path d="M414.6,51.1L417.7,56.9L411.5,56.9Z" fill="#fff" stroke="#F8766D" stroke-width="1.1"/>
<path d="M411,52.8L414.3,56.1L411,59.4L407.7,56.1Z" fill="#fff" stroke="#00BA38" stroke-width="1.2"/>
<circle cx="449.4" cy="29.8" r="3.3" fill="#fff" stroke="#619CFF" stroke-width="1.2"/>
<line x1="252.5" y1="1" x2="252.5" y2="210.1" stroke="#b3b3b3" stroke-width="1"/>
<line x1="252" y1="210.1" x2="458" y2="210.1" stroke="#b3b3b3" stroke-width="1"/>
<line x1="249.7" y1="176.9" x2="252.5" y2="176.9" stroke="#666" stroke-width="0.8"/>
<text transform="translate(248.2,177.3) rotate(-90) scale(1,1.12)" font-size="9.2" fill="#333" text-anchor="middle">5</text>
<line x1="249.7" y1="133.5" x2="252.5" y2="133.5" stroke="#666" stroke-width="0.8"/>
<text transform="translate(248.2,133.9) rotate(-90) scale(1,1.12)" font-size="9.2" fill="#333" text-anchor="middle">10</text>
<line x1="249.7" y1="90.1" x2="252.5" y2="90.1" stroke="#666" stroke-width="0.8"/>
<text transform="translate(248.2,90.5) rotate(-90) scale(1,1.12)" font-size="9.2" fill="#333" text-anchor="middle">15</text>
<line x1="249.7" y1="46.7" x2="252.5" y2="46.7" stroke="#666" stroke-width="0.8"/>
<text transform="translate(248.2,47.1) rotate(-90) scale(1,1.12)" font-size="9.2" fill="#333" text-anchor="middle">20</text>
<line x1="249.7" y1="3.3" x2="252.5" y2="3.3" stroke="#666" stroke-width="0.8"/>
<text transform="translate(248.2,3.7) rotate(-90) scale(1,1.12)" font-size="9.2" fill="#333" text-anchor="middle">25</text>
<line x1="254.8" y1="210.1" x2="254.8" y2="212.9" stroke="#666" stroke-width="0.8"/>
<line x1="279.7" y1="210.1" x2="279.7" y2="212.9" stroke="#666" stroke-width="0.8"/>
<line x1="312.6" y1="210.1" x2="312.6" y2="212.9" stroke="#666" stroke-width="0.8"/>
<line x1="337.5" y1="210.1" x2="337.5" y2="212.9" stroke="#666" stroke-width="0.8"/>
<line x1="362.4" y1="210.1" x2="362.4" y2="212.9" stroke="#666" stroke-width="0.8"/>
<line x1="395.3" y1="210.1" x2="395.3" y2="212.9" stroke="#666" stroke-width="0.8"/>
<line x1="420.2" y1="210.1" x2="420.2" y2="212.9" stroke="#666" stroke-width="0.8"/>
<line x1="445.1" y1="210.1" x2="445.1" y2="212.9" stroke="#666" stroke-width="0.8"/>
<text x="256.6" y="11.5" font-size="15.2" fill="#000">Bumblebees</text>
<text x="257.8" y="22.3" font-size="12.4" fill="#1a1a1a">period: first</text>
<path d="M480.8,206.2L505.6,195.3L507.2,194.22L508.8,193.15L510.4,192.09L512,191.05L513.6,190L515.2,188.95L516.8,187.9L518.4,186.84L520,185.76L521.6,184.66L523.2,183.54L524.8,182.4L526.4,181.22L528,180L529.5,178.82L531,177.6L532.5,176.35L534,175.07L535.5,173.76L537,172.43L538.5,171.08L540,169.71L541.5,168.33L543,166.94L544.5,165.55L546,164.16L547.5,162.76L549,161.38L550.5,160L552,158.63L553.5,157.25L555,155.88L556.5,154.5L558,153.12L559.5,151.74L561,150.35L562.5,148.96L564,147.56L565.5,146.16L567,144.76L568.5,143.35L570,141.94L571.5,140.51L573,139.09L574.5,137.65L576,136.21L577.5,134.76L579,133.31L580.5,131.84L582,130.37L583.5,128.89L585,127.4L586.52,125.88L588.04,124.34L589.55,122.78L591.07,121.21L592.59,119.63L594.11,118.04L595.63,116.44L597.15,114.84L598.66,113.23L600.18,111.61L601.7,110L603.38,108.21L605.05,106.39L606.73,104.56L608.4,102.72L610.08,100.89L611.75,99.07L613.43,97.27L615.1,95.5L616.61,93.93L618.11,92.37L619.62,90.82L621.13,89.27L622.64,87.74L624.14,86.21L625.65,84.69L627.16,83.18L628.66,81.68L630.17,80.19L631.68,78.7L633.19,77.23L634.69,75.76L636.2,74.3L637.9,72.68L639.6,71.09L641.3,69.5" fill="none" stroke="#F8766D" stroke-width="0.9" stroke-linejoin="round"/>
<path d="M480.8,200.8L505.6,187.7L507.2,186.51L508.8,185.33L510.4,184.14L512,182.96L513.6,181.78L515.2,180.59L516.8,179.41L518.4,178.22L520,177.04L521.6,175.85L523.2,174.66L524.8,173.48L526.4,172.29L528,171.1L529.66,169.88L531.31,168.67L532.97,167.47L534.62,166.27L536.28,165.06L537.93,163.84L539.59,162.59L541.24,161.31L542.9,160L544.4,158.78L545.91,157.54L547.41,156.29L548.91,155.03L550.42,153.75L551.92,152.45L553.42,151.15L554.93,149.83L556.43,148.5L557.94,147.16L559.44,145.81L560.94,144.44L562.45,143.07L563.95,141.69L565.45,140.3L566.96,138.9L568.46,137.5L569.96,136.09L571.47,134.67L572.97,133.24L574.48,131.81L575.98,130.38L577.48,128.94L578.99,127.5L580.49,126.05L581.99,124.6L583.5,123.15L585,121.7L586.66,120.08L588.31,118.43L589.97,116.76L591.63,115.08L593.29,113.38L594.94,111.69L596.6,110L598.23,108.35L599.87,106.72L601.5,105.09L603.13,103.46L604.77,101.82L606.4,100.16L608.03,98.48L609.67,96.76L611.3,95L612.82,93.32L614.35,91.6L615.87,89.86L617.39,88.09L618.92,86.29L620.44,84.48L621.96,82.65L623.49,80.8L625.01,78.95L626.54,77.08L628.06,75.22L629.58,73.35L631.11,71.48L632.63,69.62L634.15,67.77L635.68,65.93L637.2,64.1" fill="none" stroke="#00BA38" stroke-width="0.9" stroke-linejoin="round"/>
<path d="M480.8,195.3L505.6,177.4L507.21,176.06L508.82,174.72L510.42,173.38L512.03,172.04L513.64,170.7L515.25,169.36L516.85,168.02L518.46,166.68L520.07,165.34L521.68,164.01L523.28,162.67L524.89,161.33L526.5,160L528.14,158.65L529.79,157.3L531.43,155.96L533.07,154.62L534.71,153.26L536.36,151.89L538,150.5L539.58,149.15L541.17,147.79L542.75,146.43L544.33,145.06L545.92,143.69L547.5,142.3L549.08,140.89L550.67,139.47L552.25,138.02L553.83,136.54L555.42,135.04L557,133.5L558.56,131.94L560.12,130.34L561.69,128.69L563.25,127.01L564.81,125.3L566.38,123.57L567.94,121.81L569.5,120.05L571.06,118.27L572.62,116.49L574.19,114.71L575.75,112.93L577.31,111.17L578.88,109.42L580.44,107.7L582,106L583.56,104.33L585.11,102.66L586.67,101L588.22,99.34L589.78,97.68L591.33,96.03L592.89,94.39L594.44,92.74L596,91.11L597.56,89.47L599.11,87.84L600.67,86.21L602.22,84.59L603.78,82.96L605.33,81.34L606.89,79.73L608.44,78.11L610,76.5L611.5,74.95L613,73.39L614.5,71.84L616,70.28L617.5,68.73L619,67.18L620.5,65.64L622,64.09L623.5,62.55L625,61.02L626.5,59.49L628,57.97L629.5,56.45L631,54.94L632.5,53.44L634,51.95L635.5,50.47L637,49L638.5,47.54L640,46.09L641.5,44.66L643,43.23L644.5,41.82L646,40.41L647.5,39L649,37.6L650.5,36.2L652,34.8L653.5,33.4L655,32L656.57,30.53L658.14,29.07L659.71,27.61L661.28,26.16L662.85,24.7L664.42,23.25L665.98,21.8L667.55,20.35L669.12,18.9L670.69,17.45L672.26,16L673.83,14.55L675.4,13.1" fill="none" stroke="#619CFF" stroke-width="0.9" stroke-linejoin="round"/>
<path d="M480.8,204.9L482.3,204.23L483.8,203.57L485.3,202.9L486.8,202.24L488.3,201.57L489.8,200.91L491.3,200.24L492.8,199.57L494.3,198.91L495.8,198.24L497.3,197.58L498.8,196.91L500.3,196.25L501.8,195.58L503.3,194.92L504.8,194.25L505.6,193.89L506.3,193.42L507.8,192.4L509.3,191.4L510.8,190.4L512.3,189.42L513.8,188.43L515.3,187.44L516.8,186.45L518.3,185.44L519.8,184.43L521.3,183.4L522.8,182.35L524.3,181.27L525.8,180.17L527.3,179.04L528.8,177.84L530.3,176.59L531.8,175.3L533.3,173.97L534.8,172.62L536.3,171.24L537.8,169.84L539.3,168.43L540.8,167L542.3,165.56L543.8,164.11L545.3,162.66L546.8,161.21L548.3,159.76L549.8,158.33L551.3,156.9L552.8,155.47L554.3,154.05L555.8,152.62L557.3,151.19L558.8,149.76L560.3,148.34L561.8,146.91L563.3,145.48L564.8,144.05L566.3,142.61L567.8,141.17L569.3,139.72L570.8,138.26L572.3,136.8L573.8,135.33L575.3,133.84L576.8,132.34L578.3,130.83L579.8,129.31L581.3,127.77L582.8,126.21L584.3,124.64L585.8,123.03L587.3,121.31L588.8,119.48L590.3,117.57L591.8,115.61L593.3,113.6L594.8,111.59L596.3,109.58L597.8,107.6L599.3,105.68L600.8,103.82L602.3,101.99L603.8,100.16L605.3,98.33L606.8,96.49L608.3,94.66L609.8,92.84L611.3,91.02L612.8,89.22L614.3,87.43L615.8,85.66L617.3,83.9L618.8,82.14L620.3,80.39L621.8,78.65L623.3,76.92L624.8,75.2L626.3,73.5L627.8,71.81L629.3,70.13L630.8,68.47L632.3,66.83L633.8,65.21L635.3,63.59L636.8,61.99L638.3,60.42L639.8,58.86L641.3,57.3L641.3,84.4L639.8,85.25L638.3,86.06L636.8,86.87L635.3,87.72L633.8,88.63L632.3,89.62L630.8,90.72L629.3,91.94L627.8,93.23L626.3,94.55L624.8,95.9L623.3,97.27L621.8,98.67L620.3,100.08L618.8,101.5L617.3,102.92L615.8,104.35L614.3,105.77L612.8,107.23L611.3,108.72L609.8,110.22L608.3,111.74L606.8,113.25L605.3,114.75L603.8,116.22L602.3,117.66L600.8,119.07L599.3,120.43L597.8,121.7L596.3,122.87L594.8,123.99L593.3,125.06L591.8,126.12L590.3,127.19L588.8,128.29L587.3,129.45L585.8,130.7L584.3,132.03L582.8,133.39L581.3,134.75L579.8,136.12L578.3,137.48L576.8,138.84L575.3,140.2L573.8,141.56L572.3,142.92L570.8,144.28L569.3,145.64L567.8,146.99L566.3,148.34L564.8,149.69L563.3,151.03L561.8,152.37L560.3,153.7L558.8,155.03L557.3,156.36L555.8,157.68L554.3,158.99L552.8,160.3L551.3,161.62L549.8,162.93L548.3,164.25L546.8,165.59L545.3,166.93L543.8,168.27L542.3,169.6L540.8,170.93L539.3,172.26L537.8,173.56L536.3,174.85L534.8,176.12L533.3,177.36L531.8,178.58L530.3,179.76L528.8,180.9L527.3,182.03L525.8,183.15L524.3,184.24L522.8,185.3L521.3,186.34L519.8,187.36L518.3,188.36L516.8,189.35L515.3,190.33L513.8,191.31L512.3,192.28L510.8,193.26L509.3,194.24L507.8,195.23L506.3,196.23L505.6,196.71L504.8,197.05L503.3,197.71L501.8,198.36L500.3,199.01L498.8,199.66L497.3,200.32L495.8,200.97L494.3,201.62L492.8,202.28L491.3,202.93L489.8,203.58L488.3,204.24L486.8,204.89L485.3,205.54L483.8,206.19L482.3,206.85L480.8,207.5Z" fill="#F8766D" fill-opacity="0.25"/>
<path d="M480.8,199.6L482.29,198.79L483.78,197.98L485.27,197.16L486.76,196.35L488.25,195.54L489.74,194.73L491.23,193.92L492.72,193.1L494.21,192.29L495.7,191.48L497.18,190.67L498.67,189.86L500.16,189.04L501.65,188.23L503.14,187.42L504.63,186.61L505.6,186.08L506.12,185.68L507.61,184.56L509.1,183.43L510.59,182.3L512.08,181.17L513.57,180.04L515.06,178.91L516.55,177.79L518.04,176.66L519.53,175.53L521.02,174.4L522.51,173.27L524,172.14L525.49,171.01L526.98,169.88L528.46,168.75L529.95,167.63L531.44,166.52L532.93,165.41L534.42,164.31L535.91,163.2L537.4,162.08L538.89,160.94L540.38,159.78L541.87,158.59L543.36,157.37L544.85,156.14L546.34,154.88L547.83,153.61L549.32,152.32L550.81,151.02L552.3,149.7L553.79,148.36L555.28,147.02L556.77,145.65L558.26,144.28L559.74,142.89L561.23,141.49L562.72,140.08L564.21,138.66L565.7,137.22L567.19,135.78L568.68,134.32L570.17,132.85L571.66,131.37L573.15,129.88L574.64,128.39L576.13,126.88L577.62,125.36L579.11,123.83L580.6,122.29L582.09,120.75L583.58,119.19L585.07,117.63L586.56,116.01L588.05,114.31L589.54,112.55L591.02,110.73L592.51,108.88L594,107.01L595.49,105.14L596.98,103.27L598.47,101.44L599.96,99.63L601.45,97.86L602.94,96.09L604.43,94.32L605.92,92.54L607.41,90.73L608.9,88.9L610.39,87.02L611.88,85.09L613.37,83.1L614.86,81.06L616.35,78.97L617.84,76.85L619.33,74.69L620.82,72.5L622.3,70.26L623.79,67.97L625.28,65.63L626.77,63.23L628.26,60.78L629.75,58.26L631.24,55.57L632.73,52.61L634.22,49.51L635.71,46.37L637.2,43.3L637.2,85.4L635.71,86.7L634.22,88L632.73,89.32L631.24,90.68L629.75,92.07L628.26,93.51L626.77,94.96L625.28,96.42L623.79,97.9L622.3,99.37L620.82,100.83L619.33,102.28L617.84,103.71L616.35,105.12L614.86,106.49L613.37,107.84L611.88,109.18L610.39,110.49L608.9,111.76L607.41,113L605.92,114.2L604.43,115.36L602.94,116.49L601.45,117.57L599.96,118.61L598.47,119.54L596.98,120.35L595.49,121.07L594,121.73L592.51,122.38L591.02,123.05L589.54,123.78L588.05,124.59L586.56,125.55L585.07,126.65L583.58,127.86L582.09,129.09L580.6,130.33L579.11,131.57L577.62,132.83L576.13,134.09L574.64,135.36L573.15,136.63L571.66,137.91L570.17,139.19L568.68,140.48L567.19,141.76L565.7,143.05L564.21,144.34L562.72,145.63L561.23,146.92L559.74,148.2L558.26,149.48L556.77,150.76L555.28,152.03L553.79,153.3L552.3,154.55L550.81,155.8L549.32,157.04L547.83,158.26L546.34,159.48L544.85,160.68L543.36,161.87L541.87,163.04L540.38,164.18L538.89,165.29L537.4,166.38L535.91,167.46L534.42,168.52L532.93,169.58L531.44,170.64L529.95,171.7L528.46,172.76L526.98,173.84L525.49,174.92L524,176L522.51,177.08L521.02,178.16L519.53,179.24L518.04,180.32L516.55,181.4L515.06,182.48L513.57,183.55L512.08,184.63L510.59,185.71L509.1,186.79L507.61,187.86L506.12,188.94L505.6,189.32L504.63,189.82L503.14,190.58L501.65,191.34L500.16,192.1L498.67,192.86L497.18,193.62L495.7,194.38L494.21,195.15L492.72,195.91L491.23,196.67L489.74,197.43L488.25,198.19L486.76,198.95L485.27,199.72L483.78,200.48L482.29,201.24L480.8,202Z" fill="#00BA38" fill-opacity="0.25"/>
<path d="M480.8,194.3L482.3,193.2L483.79,192.11L485.29,191.01L486.79,189.91L488.28,188.82L489.78,187.72L491.28,186.63L492.78,185.53L494.27,184.43L495.77,183.34L497.27,182.24L498.76,181.14L500.26,180.05L501.76,178.95L503.25,177.86L504.75,176.76L505.6,176.14L506.25,175.59L507.74,174.33L509.24,173.07L510.74,171.8L512.24,170.54L513.73,169.27L515.23,168.01L516.73,166.75L518.22,165.48L519.72,164.22L521.22,162.96L522.71,161.7L524.21,160.44L525.71,159.18L527.2,157.93L528.7,156.67L530.2,155.41L531.7,154.16L533.19,152.9L534.69,151.63L536.19,150.36L537.68,149.06L539.18,147.75L540.68,146.44L542.17,145.12L543.67,143.8L545.17,142.47L546.66,141.13L548.16,139.77L549.66,138.4L551.16,137L552.65,135.58L554.15,134.14L555.65,132.66L557.14,131.15L558.64,129.6L560.14,128L561.63,126.36L563.13,124.68L564.63,122.96L566.12,121.22L567.62,119.45L569.12,117.67L570.62,115.87L572.11,114.07L573.61,112.26L575.11,110.45L576.6,108.64L578.1,106.85L579.6,105.07L581.09,103.3L582.59,101.56L584.09,99.83L585.58,98.1L587.08,96.36L588.58,94.6L590.08,92.84L591.57,91.06L593.07,89.28L594.57,87.5L596.06,85.72L597.56,83.93L599.06,82.15L600.55,80.38L602.05,78.62L603.55,76.87L605.04,75.13L606.54,73.41L608.04,71.7L609.54,70.02L611.03,68.35L612.53,66.7L614.03,65.05L615.52,63.41L617.02,61.78L618.52,60.15L620.01,58.53L621.51,56.91L623.01,55.3L624.5,53.7L626,52.1L627.5,50.51L629,48.92L630.49,47.34L631.99,45.76L633.49,44.18L634.98,42.61L636.48,41.04L637.98,39.48L639.47,37.92L640.97,36.36L642.47,34.81L643.96,33.26L645.46,31.71L646.96,30.17L648.46,28.64L649.95,27.11L651.45,25.59L652.95,24.07L654.44,22.56L655.94,21.06L657.44,19.56L658.93,18.07L660.43,16.59L661.93,15.12L663.42,13.64L664.92,12.17L666.42,10.71L667.92,9.24L669.41,7.78L670.91,6.31L672.41,4.84L673.9,3.37L675.4,1.9L675.4,24.6L673.9,25.84L672.41,27.07L670.91,28.31L669.41,29.54L667.92,30.77L666.42,32L664.92,33.24L663.42,34.47L661.93,35.71L660.43,36.95L658.93,38.2L657.44,39.45L655.94,40.71L654.44,41.97L652.95,43.23L651.45,44.49L649.95,45.76L648.46,47.02L646.96,48.29L645.46,49.57L643.96,50.85L642.47,52.14L640.97,53.45L639.47,54.78L637.98,56.12L636.48,57.48L634.98,58.85L633.49,60.24L631.99,61.65L630.49,63.07L629,64.5L627.5,65.94L626,67.38L624.5,68.84L623.01,70.3L621.51,71.76L620.01,73.23L618.52,74.7L617.02,76.16L615.52,77.63L614.03,79.09L612.53,80.55L611.03,82L609.54,83.45L608.04,84.88L606.54,86.31L605.04,87.72L603.55,89.13L602.05,90.54L600.55,91.94L599.06,93.34L597.56,94.74L596.06,96.15L594.57,97.56L593.07,98.97L591.57,100.4L590.08,101.83L588.58,103.27L587.08,104.73L585.58,106.2L584.09,107.68L582.59,109.18L581.09,110.68L579.6,112.2L578.1,113.75L576.6,115.32L575.11,116.9L573.61,118.49L572.11,120.1L570.62,121.7L569.12,123.3L567.62,124.9L566.12,126.48L564.63,128.06L563.13,129.61L561.63,131.14L560.14,132.65L558.64,134.12L557.14,135.56L555.65,136.97L554.15,138.35L552.65,139.7L551.16,141.04L549.66,142.35L548.16,143.65L546.66,144.94L545.17,146.21L543.67,147.47L542.17,148.73L540.68,149.98L539.18,151.23L537.68,152.48L536.19,153.71L534.69,154.93L533.19,156.13L531.7,157.33L530.2,158.52L528.7,159.7L527.2,160.91L525.71,162.13L524.21,163.36L522.71,164.59L521.22,165.82L519.72,167.05L518.22,168.28L516.73,169.51L515.23,170.74L513.73,171.97L512.24,173.2L510.74,174.44L509.24,175.67L507.74,176.9L506.25,178.13L505.6,178.66L504.75,179.27L503.25,180.33L501.76,181.4L500.26,182.46L498.76,183.53L497.27,184.59L495.77,185.65L494.27,186.72L492.78,187.78L491.28,188.85L489.78,189.91L488.28,190.98L486.79,192.04L485.29,193.11L483.79,194.17L482.3,195.24L480.8,196.3Z" fill="#619CFF" fill-opacity="0.25"/>
<line x1="641" y1="57.3" x2="641" y2="84.2" stroke="#F8766D" stroke-width="1.3"/>
<line x1="637.2" y1="43.3" x2="637.2" y2="85.4" stroke="#00BA38" stroke-width="1.3"/>
<line x1="675.4" y1="1.9" x2="675.4" y2="24.6" stroke="#619CFF" stroke-width="1.3"/>
<path d="M641,65.7L644.1,71.5L637.9,71.5Z" fill="#fff" stroke="#F8766D" stroke-width="1.1"/>
<path d="M637.2,60.8L640.5,64.1L637.2,67.4L633.9,64.1Z" fill="#fff" stroke="#00BA38" stroke-width="1.2"/>
<circle cx="675.4" cy="13.1" r="3.3" fill="#fff" stroke="#619CFF" stroke-width="1.2"/>
<line x1="477.5" y1="1" x2="477.5" y2="210.1" stroke="#b3b3b3" stroke-width="1"/>
<line x1="477" y1="210.1" x2="683.7" y2="210.1" stroke="#b3b3b3" stroke-width="1"/>
<line x1="474.7" y1="187.86" x2="477.5" y2="187.86" stroke="#666" stroke-width="0.8"/>
<text transform="translate(473.2,188.26) rotate(-90) scale(1,1.12)" font-size="9.2" fill="#333" text-anchor="middle">10</text>
<line x1="474.7" y1="156.02" x2="477.5" y2="156.02" stroke="#666" stroke-width="0.8"/>
<text transform="translate(473.2,156.42) rotate(-90) scale(1,1.12)" font-size="9.2" fill="#333" text-anchor="middle">20</text>
<line x1="474.7" y1="124.18" x2="477.5" y2="124.18" stroke="#666" stroke-width="0.8"/>
<text transform="translate(473.2,124.58) rotate(-90) scale(1,1.12)" font-size="9.2" fill="#333" text-anchor="middle">30</text>
<line x1="474.7" y1="92.34" x2="477.5" y2="92.34" stroke="#666" stroke-width="0.8"/>
<text transform="translate(473.2,92.74) rotate(-90) scale(1,1.12)" font-size="9.2" fill="#333" text-anchor="middle">40</text>
<line x1="474.7" y1="60.5" x2="477.5" y2="60.5" stroke="#666" stroke-width="0.8"/>
<text transform="translate(473.2,60.9) rotate(-90) scale(1,1.12)" font-size="9.2" fill="#333" text-anchor="middle">50</text>
<line x1="474.7" y1="28.66" x2="477.5" y2="28.66" stroke="#666" stroke-width="0.8"/>
<text transform="translate(473.2,29.06) rotate(-90) scale(1,1.12)" font-size="9.2" fill="#333" text-anchor="middle">60</text>
<line x1="480.7" y1="210.1" x2="480.7" y2="212.9" stroke="#666" stroke-width="0.8"/>
<line x1="505.6" y1="210.1" x2="505.6" y2="212.9" stroke="#666" stroke-width="0.8"/>
<line x1="538.5" y1="210.1" x2="538.5" y2="212.9" stroke="#666" stroke-width="0.8"/>
<line x1="563.4" y1="210.1" x2="563.4" y2="212.9" stroke="#666" stroke-width="0.8"/>
<line x1="588.3" y1="210.1" x2="588.3" y2="212.9" stroke="#666" stroke-width="0.8"/>
<line x1="621.2" y1="210.1" x2="621.2" y2="212.9" stroke="#666" stroke-width="0.8"/>
<line x1="646.1" y1="210.1" x2="646.1" y2="212.9" stroke="#666" stroke-width="0.8"/>
<line x1="671" y1="210.1" x2="671" y2="212.9" stroke="#666" stroke-width="0.8"/>
<text x="482.8" y="11.5" font-size="15.2" fill="#000">Plants</text>
<text x="483.8" y="22.3" font-size="12.4" fill="#1a1a1a">period: first</text>
<line x1="569" y1="177.4" x2="596.6" y2="177.4" stroke="#F8766D" stroke-width="1.1"/>
<path d="M582.8,172.2L588.4,181L577.2,181Z" fill="#fff" stroke="#F8766D" stroke-width="1.1"/>
<text x="601.8" y="181.1" font-size="9.4" fill="#1a1a1a">no AES</text>
<line x1="569" y1="190.15" x2="596.6" y2="190.15" stroke="#00BA38" stroke-width="1.1"/>
<path d="M582.8,186.15L586.6,190.15L582.8,194.15L579,190.15Z" fill="#fff" stroke="#00BA38" stroke-width="1.1"/>
<text x="601.8" y="193.85" font-size="9.4" fill="#1a1a1a">AES general values</text>
<line x1="569" y1="202.9" x2="596.6" y2="202.9" stroke="#619CFF" stroke-width="1.1"/>
<circle cx="582.8" cy="202.9" r="4.1" fill="#fff" stroke="#619CFF" stroke-width="1.1"/>
<text x="601.8" y="206.6" font-size="9.4" fill="#1a1a1a">AES specias values</text>
<path d="M28.5,416.2L53.4,397L54.92,395.37L56.45,393.73L57.97,392.09L59.49,390.44L61.01,388.79L62.54,387.14L64.06,385.48L65.58,383.82L67.11,382.16L68.63,380.49L70.15,378.83L71.67,377.16L73.2,375.5L74.72,373.84L76.24,372.17L77.77,370.51L79.29,368.85L80.81,367.2L82.33,365.55L83.86,363.9L85.38,362.25L86.9,360.62L88.43,358.98L89.95,357.35L91.47,355.73L92.99,354.12L94.52,352.51L96.04,350.91L97.56,349.33L99.09,347.75L100.61,346.17L102.13,344.61L103.65,343.06L105.18,341.53L106.7,340L108.27,338.44L109.84,336.89L111.42,335.36L112.99,333.84L114.56,332.33L116.13,330.83L117.71,329.34L119.28,327.86L120.85,326.38L122.42,324.91L123.99,323.45L125.57,321.98L127.14,320.52L128.71,319.06L130.28,317.6L131.86,316.14L133.43,314.67L135,313.2L136.56,311.72L138.12,310.23L139.69,308.72L141.25,307.2L142.81,305.68L144.38,304.16L145.94,302.64L147.5,301.14L149.06,299.64L150.62,298.17L152.19,296.72L153.75,295.3L155.31,293.91L156.88,292.56L158.44,291.26L160,290L161.5,288.84L163,287.72L164.5,286.64L166,285.59L167.5,284.56L169,283.54L170.5,282.54L172,281.53L173.5,280.52L175,279.5L176.63,278.38L178.26,277.27L179.89,276.17L181.52,275.07L183.15,273.97L184.78,272.88L186.41,271.79L188.04,270.69L189.67,269.6L191.3,268.5" fill="none" stroke="#F8766D" stroke-width="0.9" stroke-linejoin="round"/>
<path d="M28.5,414L53.4,397.7L54.92,396.18L56.44,394.64L57.96,393.1L59.48,391.55L61.01,390L62.53,388.44L64.05,386.87L65.57,385.3L67.09,383.73L68.61,382.15L70.13,380.57L71.65,378.99L73.17,377.41L74.69,375.82L76.22,374.24L77.74,372.67L79.26,371.09L80.78,369.52L82.3,367.95L83.82,366.39L85.34,364.83L86.86,363.28L88.38,361.73L89.91,360.2L91.43,358.67L92.95,357.16L94.47,355.65L95.99,354.16L97.51,352.67L99.03,351.2L100.55,349.75L102.07,348.3L103.59,346.88L105.12,345.47L106.64,344.07L108.16,342.7L109.68,341.34L111.2,340L112.79,338.63L114.37,337.28L115.96,335.96L117.55,334.65L119.13,333.37L120.72,332.1L122.31,330.84L123.89,329.6L125.48,328.36L127.07,327.13L128.65,325.91L130.24,324.68L131.83,323.46L133.41,322.23L135,321L136.56,319.79L138.12,318.59L139.69,317.4L141.25,316.22L142.81,315.04L144.38,313.87L145.94,312.7L147.5,311.53L149.06,310.36L150.62,309.19L152.19,308.01L153.75,306.83L155.31,305.64L156.88,304.44L158.44,303.22L160,302L161.5,300.82L163,299.65L164.5,298.47L166,297.29L167.5,296.1L169,294.89L170.5,293.66L172,292.41L173.5,291.12L175,289.8L176.59,288.35L178.17,286.83L179.76,285.27L181.34,283.67L182.93,282.07L184.51,280.47L186.1,278.9" fill="none" stroke="#00BA38" stroke-width="0.9" stroke-linejoin="round"/>
<path d="M28.5,409.8L53.4,387.5L54.92,386.08L56.45,384.67L57.98,383.26L59.5,381.85L61.02,380.44L62.55,379.03L64.08,377.62L65.6,376.22L67.12,374.81L68.65,373.4L70.17,371.99L71.7,370.59L73.22,369.17L74.75,367.76L76.28,366.35L77.8,364.93L79.33,363.52L80.85,362.1L82.38,360.67L83.9,359.25L85.42,357.82L86.95,356.38L88.47,354.94L90,353.5L91.62,351.95L93.25,350.39L94.88,348.82L96.5,347.25L98.12,345.68L99.75,344.11L101.38,342.55L103,341L104.52,339.55L106.05,338.09L107.57,336.62L109.1,335.14L110.62,333.65L112.14,332.16L113.67,330.68L115.19,329.19L116.71,327.71L118.24,326.24L119.76,324.78L121.29,323.33L122.81,321.9L124.33,320.49L125.86,319.09L127.38,317.72L128.9,316.38L130.43,315.06L131.95,313.77L133.48,312.52L135,311.3L136.57,310.09L138.14,308.94L139.71,307.83L141.29,306.74L142.86,305.67L144.43,304.59L146,303.5L147.53,302.42L149.05,301.34L150.58,300.25L152.11,299.15L153.63,298.05L155.16,296.95L156.68,295.86L158.21,294.76L159.74,293.67L161.26,292.58L162.79,291.51L164.32,290.44L165.84,289.38L167.37,288.34L168.89,287.32L170.42,286.31L171.95,285.32L173.47,284.35L175,283.4L176.5,282.49L178,281.61L179.5,280.75L181,279.91L182.5,279.08L184,278.25L185.5,277.44L187,276.63L188.5,275.82L190,275L191.5,274.19L193,273.38L194.5,272.58L196,271.79L197.5,271L199,270.21L200.5,269.41L202,268.62L203.5,267.81L205,267L206.52,266.17L208.04,265.33L209.56,264.49L211.09,263.64L212.61,262.79L214.13,261.94L215.65,261.09L217.17,260.23L218.69,259.37L220.21,258.52L221.74,257.66L223.26,256.81L224.78,255.95L226.3,255.1" fill="none" stroke="#619CFF" stroke-width="0.9" stroke-linejoin="round"/>
<path d="M28.5,414.9L29.99,413.72L31.49,412.54L32.98,411.37L34.47,410.19L35.97,409.01L37.46,407.83L38.96,406.66L40.45,405.48L41.94,404.3L43.44,403.12L44.93,401.95L46.42,400.77L47.92,399.59L49.41,398.41L50.9,397.24L52.4,396.06L53.4,395.27L53.89,394.73L55.38,393.11L56.88,391.47L58.37,389.84L59.87,388.19L61.36,386.55L62.85,384.9L64.35,383.25L65.84,381.59L67.33,379.94L68.83,378.28L70.32,376.61L71.81,374.93L73.31,373.26L74.8,371.58L76.29,369.91L77.79,368.24L79.28,366.57L80.78,364.9L82.27,363.24L83.76,361.58L85.26,359.92L86.75,358.27L88.24,356.63L89.74,354.99L91.23,353.36L92.72,351.73L94.22,350.11L95.71,348.5L97.2,346.9L98.7,345.31L100.19,343.74L101.69,342.17L103.18,340.61L104.67,339.06L106.17,337.53L107.66,336.01L109.15,334.51L110.65,333.03L112.14,331.55L113.63,330.09L115.13,328.65L116.62,327.21L118.11,325.77L119.61,324.35L121.1,322.93L122.6,321.51L124.09,320.1L125.58,318.69L127.08,317.27L128.57,315.86L130.06,314.44L131.56,313.01L133.05,311.58L134.54,310.14L136.04,308.68L137.53,307.17L139.02,305.62L140.52,304.03L142.01,302.42L143.51,300.8L145,299.16L146.49,297.53L147.99,295.91L149.48,294.31L150.97,292.73L152.47,291.17L153.96,289.63L155.45,288.12L156.95,286.64L158.44,285.2L159.93,283.79L161.43,282.42L162.92,281.1L164.42,279.8L165.91,278.54L167.4,277.29L168.9,276.05L170.39,274.82L171.88,273.59L173.38,272.36L174.87,271.11L176.36,269.85L177.86,268.59L179.35,267.33L180.84,266.06L182.34,264.8L183.83,263.53L185.33,262.26L186.82,261L188.31,259.73L189.81,258.47L191.3,257.2L191.3,281.4L189.81,282.04L188.31,282.68L186.82,283.31L185.33,283.94L183.83,284.57L182.34,285.21L180.84,285.85L179.35,286.5L177.86,287.17L176.36,287.86L174.87,288.56L173.38,289.27L171.88,289.96L170.39,290.64L168.9,291.32L167.4,292.02L165.91,292.73L164.42,293.48L162.92,294.26L161.43,295.09L159.93,295.96L158.44,296.91L156.95,297.9L155.45,298.96L153.96,300.07L152.47,301.23L150.97,302.44L149.48,303.7L147.99,304.99L146.49,306.29L145,307.62L143.51,308.96L142.01,310.31L140.52,311.67L139.02,313.03L137.53,314.39L136.04,315.76L134.54,317.11L133.05,318.47L131.56,319.83L130.06,321.18L128.57,322.54L127.08,323.9L125.58,325.26L124.09,326.63L122.6,328L121.1,329.38L119.61,330.76L118.11,332.14L116.62,333.54L115.13,334.94L113.63,336.35L112.14,337.77L110.65,339.19L109.15,340.63L107.66,342.08L106.17,343.54L104.67,345.01L103.18,346.49L101.69,347.97L100.19,349.47L98.7,350.98L97.2,352.49L95.71,354.01L94.22,355.54L92.72,357.08L91.23,358.62L89.74,360.17L88.24,361.73L86.75,363.29L85.26,364.85L83.76,366.42L82.27,368L80.78,369.57L79.28,371.15L77.79,372.74L76.29,374.32L74.8,375.91L73.31,377.5L71.81,379.09L70.32,380.68L68.83,382.28L67.33,383.88L65.84,385.49L64.35,387.09L62.85,388.69L61.36,390.29L59.87,391.88L58.37,393.47L56.88,395.06L55.38,396.64L53.89,398.21L53.4,398.73L52.4,399.49L50.9,400.61L49.41,401.74L47.92,402.86L46.42,403.99L44.93,405.12L43.44,406.24L41.94,407.37L40.45,408.49L38.96,409.62L37.46,410.75L35.97,411.87L34.47,413L32.98,414.12L31.49,415.25L29.99,416.37L28.5,417.5Z" fill="#F8766D" fill-opacity="0.25"/>
<path d="M28.5,412.8L29.99,411.78L31.47,410.75L32.96,409.73L34.45,408.71L35.93,407.68L37.42,406.66L38.91,405.64L40.39,404.61L41.88,403.59L43.37,402.57L44.85,401.54L46.34,400.52L47.83,399.49L49.32,398.47L50.8,397.45L52.29,396.42L53.4,395.66L53.78,395.27L55.26,393.73L56.75,392.18L58.24,390.62L59.72,389.06L61.21,387.49L62.7,385.91L64.18,384.33L65.67,382.74L67.16,381.14L68.64,379.49L70.13,377.83L71.62,376.17L73.1,374.5L74.59,372.84L76.08,371.17L77.56,369.51L79.05,367.85L80.54,366.19L82.02,364.53L83.51,362.89L85,361.24L86.48,359.61L87.97,357.98L89.46,356.37L90.95,354.76L92.43,353.17L93.92,351.59L95.41,350.02L96.89,348.47L98.38,346.93L99.87,345.41L101.35,343.91L102.84,342.43L104.33,340.97L105.81,339.53L107.3,338.11L108.79,336.71L110.27,335.32L111.76,333.95L113.25,332.61L114.73,331.28L116.22,329.97L117.71,328.66L119.19,327.37L120.68,326.08L122.17,324.8L123.65,323.52L125.14,322.24L126.63,320.96L128.12,319.67L129.6,318.38L131.09,317.08L132.58,315.78L134.06,314.46L135.55,313.13L137.04,311.81L138.52,310.48L140.01,309.15L141.5,307.82L142.98,306.46L144.47,305.08L145.96,303.69L147.44,302.28L148.93,300.85L150.42,299.42L151.9,297.97L153.39,296.52L154.88,295.06L156.36,293.59L157.85,292.12L159.34,290.65L160.82,289.19L162.31,287.75L163.8,286.32L165.28,284.9L166.77,283.47L168.26,282.01L169.75,280.52L171.23,278.98L172.72,277.39L174.21,275.72L175.69,273.95L177.18,272.02L178.67,269.94L180.15,267.76L181.64,265.51L183.13,263.24L184.61,260.99L186.1,258.8L186.1,299L184.61,300.26L183.13,301.55L181.64,302.84L180.15,304.13L178.67,305.39L177.18,306.61L175.69,307.78L174.21,308.88L172.72,309.94L171.23,310.97L169.75,311.97L168.26,312.94L166.77,313.89L165.28,314.82L163.8,315.73L162.31,316.63L160.82,317.51L159.34,318.38L157.85,319.23L156.36,320.03L154.88,320.81L153.39,321.56L151.9,322.29L150.42,323.01L148.93,323.73L147.44,324.44L145.96,325.16L144.47,325.88L142.98,326.62L141.5,327.38L140.01,328.16L138.52,328.96L137.04,329.76L135.55,330.57L134.06,331.39L132.58,332.22L131.09,333.04L129.6,333.87L128.12,334.71L126.63,335.57L125.14,336.44L123.65,337.34L122.17,338.27L120.68,339.22L119.19,340.21L117.71,341.23L116.22,342.27L114.73,343.34L113.25,344.44L111.76,345.57L110.27,346.72L108.79,347.91L107.3,349.11L105.81,350.33L104.33,351.57L102.84,352.83L101.35,354.1L99.87,355.39L98.38,356.69L96.89,358.01L95.41,359.34L93.92,360.69L92.43,362.04L90.95,363.41L89.46,364.8L87.97,366.19L86.48,367.59L85,368.99L83.51,370.41L82.02,371.83L80.54,373.26L79.05,374.69L77.56,376.12L76.08,377.56L74.59,378.99L73.1,380.43L71.62,381.87L70.13,383.3L68.64,384.74L67.16,386.17L65.67,387.65L64.18,389.14L62.7,390.62L61.21,392.09L59.72,393.57L58.24,395.03L56.75,396.49L55.26,397.94L53.78,399.38L53.4,399.74L52.29,400.43L50.8,401.35L49.32,402.28L47.83,403.2L46.34,404.12L44.85,405.05L43.37,405.97L41.88,406.89L40.39,407.82L38.91,408.74L37.42,409.66L35.93,410.58L34.45,411.51L32.96,412.43L31.47,413.35L29.99,414.28L28.5,415.2Z" fill="#00BA38" fill-opacity="0.25"/>
<path d="M28.5,408.6L30,407.25L31.5,405.9L33,404.55L34.49,403.2L35.99,401.85L37.49,400.5L38.99,399.15L40.49,397.81L41.99,396.46L43.48,395.11L44.98,393.76L46.48,392.41L47.98,391.06L49.48,389.71L50.98,388.36L52.48,387.01L53.4,386.18L53.97,385.64L55.47,384.25L56.97,382.85L58.47,381.46L59.97,380.06L61.47,378.67L62.97,377.28L64.46,375.89L65.96,374.5L67.46,373.11L68.96,371.72L70.46,370.33L71.96,368.94L73.45,367.54L74.95,366.15L76.45,364.75L77.95,363.35L79.45,361.95L80.95,360.55L82.45,359.14L83.94,357.73L85.44,356.32L86.94,354.9L88.44,353.48L89.94,352.06L91.44,350.58L92.93,349.09L94.43,347.59L95.93,346.09L97.43,344.58L98.93,343.08L100.43,341.58L101.93,340.1L103.42,338.62L104.92,337.14L106.42,335.64L107.92,334.14L109.42,332.62L110.92,331.11L112.42,329.59L113.91,328.06L115.41,326.54L116.91,325.03L118.41,323.52L119.91,322.01L121.41,320.52L122.9,319.05L124.4,317.59L125.9,316.14L127.4,314.72L128.9,313.32L130.4,311.95L131.9,310.61L133.39,309.29L134.89,308.01L136.39,306.78L137.89,305.59L139.39,304.44L140.89,303.31L142.38,302.2L143.88,301.09L145.38,299.97L146.88,298.83L148.38,297.68L149.88,296.53L151.38,295.38L152.87,294.22L154.37,293.07L155.87,291.91L157.37,290.75L158.87,289.59L160.37,288.44L161.87,287.28L163.36,286.13L164.86,284.99L166.36,283.85L167.86,282.71L169.36,281.58L170.86,280.46L172.35,279.35L173.85,278.24L175.35,277.13L176.85,275.95L178.35,274.68L179.85,273.34L181.35,271.96L182.84,270.59L184.34,269.25L185.84,267.97L187.34,266.78L188.84,265.72L190.34,264.81L191.83,263.96L193.33,263.13L194.83,262.31L196.33,261.49L197.83,260.67L199.33,259.86L200.83,259.05L202.32,258.24L203.82,257.42L205.32,256.59L206.82,255.75L208.32,254.92L209.82,254.08L211.32,253.23L212.81,252.38L214.31,251.53L215.81,250.68L217.31,249.83L218.81,248.98L220.31,248.12L221.8,247.26L223.3,246.41L224.8,245.55L226.3,244.7L226.3,264.8L224.8,265.55L223.3,266.3L221.8,267.06L220.31,267.82L218.81,268.58L217.31,269.34L215.81,270.1L214.31,270.86L212.81,271.62L211.32,272.37L209.82,273.12L208.32,273.87L206.82,274.61L205.32,275.34L203.82,276.07L202.32,276.78L200.83,277.49L199.33,278.19L197.83,278.88L196.33,279.57L194.83,280.26L193.33,280.95L191.83,281.65L190.34,282.34L188.84,283.04L187.34,283.71L185.84,284.37L184.34,285.03L182.84,285.68L181.35,286.35L179.85,287.03L178.35,287.73L176.85,288.45L175.35,289.22L173.85,290.02L172.35,290.84L170.86,291.69L169.36,292.56L167.86,293.45L166.36,294.35L164.86,295.28L163.36,296.21L161.87,297.16L160.37,298.12L158.87,299.09L157.37,300.07L155.87,301.05L154.37,302.03L152.87,303.02L151.38,304L149.88,304.98L148.38,305.96L146.88,306.93L145.38,307.89L143.88,308.84L142.38,309.78L140.89,310.72L139.39,311.68L137.89,312.66L136.39,313.69L134.89,314.76L133.39,315.88L131.9,317.03L130.4,318.22L128.9,319.44L127.4,320.69L125.9,321.96L124.4,323.26L122.9,324.58L121.41,325.92L119.91,327.27L118.41,328.64L116.91,330.02L115.41,331.41L113.91,332.81L112.42,334.21L110.92,335.61L109.42,337.02L107.92,338.42L106.42,339.81L104.92,341.2L103.42,342.57L101.93,343.94L100.43,345.33L98.93,346.72L97.43,348.11L95.93,349.51L94.43,350.91L92.93,352.3L91.44,353.68L89.94,355.06L88.44,356.47L86.94,357.87L85.44,359.28L83.94,360.67L82.45,362.07L80.95,363.46L79.45,364.85L77.95,366.24L76.45,367.62L74.95,369L73.45,370.38L71.96,371.76L70.46,373.14L68.96,374.51L67.46,375.89L65.96,377.27L64.46,378.64L62.97,380.02L61.47,381.39L59.97,382.77L58.47,384.15L56.97,385.53L55.47,386.91L53.97,388.29L53.4,388.82L52.48,389.64L50.98,390.98L49.48,392.31L47.98,393.65L46.48,394.98L44.98,396.32L43.48,397.65L41.99,398.99L40.49,400.32L38.99,401.66L37.49,402.99L35.99,404.33L34.49,405.66L33,407L31.5,408.33L30,409.67L28.5,411Z" fill="#619CFF" fill-opacity="0.25"/>
<line x1="191.3" y1="257.3" x2="191.3" y2="281.2" stroke="#F8766D" stroke-width="1.3"/>
<line x1="186.1" y1="258.8" x2="186.1" y2="299" stroke="#00BA38" stroke-width="1.3"/>
<line x1="226.3" y1="244.7" x2="226.3" y2="264.8" stroke="#619CFF" stroke-width="1.3"/>
<path d="M191.3,264.1L195.2,271.1L187.4,271.1Z" fill="#F8766D" stroke="#F8766D" stroke-width="0.4"/>
<path d="M186.1,275L190,278.9L186.1,282.8L182.2,278.9Z" fill="#00BA38" stroke="#00BA38" stroke-width="1.2"/>
<circle cx="226.3" cy="255.1" r="3.9" fill="#619CFF" stroke="#619CFF" stroke-width="1.2"/>
<line x1="26.1" y1="222.3" x2="26.1" y2="437.3" stroke="#b3b3b3" stroke-width="1"/>
<line x1="25.6" y1="437.3" x2="230.7" y2="437.3" stroke="#b3b3b3" stroke-width="1"/>
<line x1="23.3" y1="399.7" x2="26.1" y2="399.7" stroke="#666" stroke-width="0.8"/>
<text transform="translate(21.8,400.1) rotate(-90) scale(1,1.12)" font-size="9.2" fill="#333" text-anchor="middle">10</text>
<line x1="23.3" y1="351.5" x2="26.1" y2="351.5" stroke="#666" stroke-width="0.8"/>
<text transform="translate(21.8,351.9) rotate(-90) scale(1,1.12)" font-size="9.2" fill="#333" text-anchor="middle">20</text>
<line x1="23.3" y1="303.3" x2="26.1" y2="303.3" stroke="#666" stroke-width="0.8"/>
<text transform="translate(21.8,303.7) rotate(-90) scale(1,1.12)" font-size="9.2" fill="#333" text-anchor="middle">30</text>
<line x1="23.3" y1="255.1" x2="26.1" y2="255.1" stroke="#666" stroke-width="0.8"/>
<text transform="translate(21.8,255.5) rotate(-90) scale(1,1.12)" font-size="9.2" fill="#333" text-anchor="middle">40</text>
<line x1="28.5" y1="437.3" x2="28.5" y2="440.1" stroke="#666" stroke-width="0.8"/>
<text x="28.5" y="451.1" font-size="9" fill="#333" text-anchor="middle">1</text>
<line x1="53.4" y1="437.3" x2="53.4" y2="440.1" stroke="#666" stroke-width="0.8"/>
<text x="53.4" y="451.1" font-size="9" fill="#333" text-anchor="middle">2</text>
<line x1="86.3" y1="437.3" x2="86.3" y2="440.1" stroke="#666" stroke-width="0.8"/>
<text x="86.3" y="451.1" font-size="9" fill="#333" text-anchor="middle">5</text>
<line x1="111.2" y1="437.3" x2="111.2" y2="440.1" stroke="#666" stroke-width="0.8"/>
<text x="111.2" y="451.1" font-size="9" fill="#333" text-anchor="middle">10</text>
<line x1="136.1" y1="437.3" x2="136.1" y2="440.1" stroke="#666" stroke-width="0.8"/>
<text x="136.1" y="451.1" font-size="9" fill="#333" text-anchor="middle">20</text>
<line x1="169" y1="437.3" x2="169" y2="440.1" stroke="#666" stroke-width="0.8"/>
<text x="169" y="451.1" font-size="9" fill="#333" text-anchor="middle">50</text>
<line x1="193.9" y1="437.3" x2="193.9" y2="440.1" stroke="#666" stroke-width="0.8"/>
<text x="193.9" y="451.1" font-size="9" fill="#333" text-anchor="middle">100</text>
<line x1="218.8" y1="437.3" x2="218.8" y2="440.1" stroke="#666" stroke-width="0.8"/>
<text x="218.8" y="451.1" font-size="9" fill="#333" text-anchor="middle">200</text>
<text x="30.3" y="232.5" font-size="15.2" fill="#000">Butterflies</text>
<text x="31.2" y="242.8" font-size="12.4" fill="#1a1a1a">period: second</text>
<text transform="translate(9.9,335.9) rotate(-90)" font-size="12.3" fill="#000" text-anchor="middle">Species diversity</text>
<path d="M254.6,421.2L279.7,400.4L281.26,398.76L282.82,397.11L284.38,395.47L285.95,393.84L287.51,392.2L289.07,390.56L290.63,388.92L292.19,387.28L293.75,385.63L295.32,383.98L296.88,382.33L298.44,380.67L300,379L301.54,377.35L303.08,375.69L304.62,374.03L306.15,372.35L307.69,370.68L309.23,369L310.77,367.32L312.31,365.64L313.85,363.96L315.38,362.29L316.92,360.62L318.46,358.96L320,357.3L321.55,355.64L323.1,353.99L324.64,352.34L326.19,350.7L327.74,349.07L329.29,347.44L330.84,345.81L332.39,344.18L333.93,342.56L335.48,340.94L337.03,339.32L338.58,337.7L340.13,336.08L341.67,334.46L343.22,332.84L344.77,331.21L346.32,329.58L347.87,327.95L349.41,326.32L350.96,324.68L352.51,323.03L354.06,321.38L355.61,319.72L357.16,318.05L358.7,316.38L360.25,314.69L361.8,313L363.32,311.33L364.84,309.66L366.37,307.98L367.89,306.3L369.41,304.62L370.93,302.93L372.46,301.23L373.98,299.53L375.5,297.82L377.02,296.11L378.54,294.38L380.07,292.65L381.59,290.9L383.11,289.15L384.63,287.38L386.16,285.6L387.68,283.81L389.2,282L390.71,280.2L392.21,278.37L393.72,276.53L395.22,274.67L396.73,272.8L398.23,270.92L399.74,269.02L401.24,267.11L402.75,265.2L404.25,263.28L405.76,261.36L407.26,259.43L408.77,257.5L410.27,255.57L411.78,253.65L413.28,251.72L414.79,249.81L416.29,247.9L417.8,246" fill="none" stroke="#F8766D" stroke-width="0.9" stroke-linejoin="round"/>
<path d="M254.6,422L279.7,403.7L281.26,402.19L282.82,400.68L284.38,399.19L285.95,397.69L287.51,396.19L289.07,394.7L290.63,393.2L292.19,391.69L293.75,390.18L295.32,388.65L296.88,387.12L298.44,385.57L300,384L301.54,382.44L303.08,380.88L304.62,379.31L306.15,377.72L307.69,376.13L309.23,374.53L310.77,372.91L312.31,371.29L313.85,369.66L315.38,368.01L316.92,366.35L318.46,364.68L320,363L321.54,361.3L323.08,359.58L324.62,357.83L326.15,356.07L327.69,354.3L329.23,352.52L330.77,350.73L332.31,348.94L333.85,347.14L335.38,345.34L336.92,343.55L338.46,341.77L340,340L341.6,338.15L343.2,336.29L344.8,334.42L346.4,332.54L348,330.66L349.6,328.79L351.2,326.93L352.8,325.09L354.4,323.27L356,321.48L357.6,319.72L359.2,318L360.73,316.37L362.27,314.74L363.8,313.11L365.33,311.48L366.87,309.87L368.4,308.26L369.93,306.66L371.47,305.09L373,303.53L374.53,302L376.07,300.49L377.6,299.02L379.13,297.58L380.67,296.18L382.2,294.81L383.73,293.49L385.27,292.22L386.8,291L388.3,289.85L389.8,288.75L391.3,287.68L392.8,286.64L394.3,285.64L395.8,284.66L397.3,283.7L398.8,282.76L400.3,281.83L401.8,280.91L403.3,279.99L404.8,279.08L406.3,278.17L407.8,277.25L409.3,276.31L410.8,275.37L412.3,274.4" fill="none" stroke="#00BA38" stroke-width="0.9" stroke-linejoin="round"/>
<path d="M254.6,419.5L279.7,395.7L281.26,393.99L282.82,392.28L284.38,390.57L285.95,388.86L287.51,387.14L289.07,385.43L290.63,383.72L292.19,382.01L293.75,380.3L295.32,378.6L296.88,376.89L298.44,375.2L300,373.5L301.54,371.83L303.08,370.17L304.62,368.51L306.15,366.86L307.69,365.2L309.23,363.55L310.77,361.9L312.31,360.25L313.85,358.6L315.38,356.95L316.92,355.3L318.46,353.65L320,352L321.54,350.35L323.08,348.7L324.62,347.06L326.15,345.41L327.69,343.77L329.23,342.13L330.77,340.48L332.31,338.83L333.85,337.18L335.38,335.52L336.92,333.86L338.46,332.18L340,330.5L341.6,328.72L343.2,326.91L344.8,325.07L346.4,323.21L348,321.34L349.6,319.48L351.2,317.64L352.8,315.82L354.4,314.04L356,312.3L357.6,310.62L359.2,309L360.72,307.51L362.24,306.05L363.75,304.61L365.27,303.18L366.79,301.78L368.31,300.4L369.82,299.04L371.34,297.7L372.86,296.38L374.38,295.08L375.89,293.8L377.41,292.54L378.93,291.29L380.45,290.07L381.96,288.86L383.48,287.67L385,286.5L386.51,285.35L388.01,284.22L389.52,283.1L391.02,281.99L392.53,280.89L394.03,279.81L395.54,278.74L397.04,277.69L398.55,276.65L400.06,275.63L401.56,274.62L403.07,273.63L404.57,272.65L406.08,271.69L407.58,270.74L409.09,269.81L410.59,268.9L412.1,268L413.63,267.11L415.15,266.22L416.68,265.36L418.21,264.51L419.73,263.67L421.26,262.84L422.79,262.03L424.31,261.23L425.84,260.45L427.37,259.67L428.89,258.91L430.42,258.17L431.95,257.43L433.47,256.71L435,256L436.52,255.31L438.05,254.64L439.57,253.98L441.1,253.34L442.62,252.71L444.15,252.09L445.68,251.48L447.2,250.87L448.73,250.26L450.25,249.65L451.78,249.03L453.3,248.4" fill="none" stroke="#619CFF" stroke-width="0.9" stroke-linejoin="round"/>
<path d="M254.6,419.9L256.1,418.62L257.59,417.33L259.09,416.05L260.59,414.77L262.09,413.49L263.58,412.2L265.08,410.92L266.58,409.64L268.08,408.36L269.57,407.07L271.07,405.79L272.57,404.51L274.06,403.23L275.56,401.94L277.06,400.66L278.56,399.38L279.7,398.4L280.05,397.99L281.55,396.27L283.05,394.56L284.54,392.85L286.04,391.14L287.54,389.43L289.04,387.72L290.53,386.01L292.03,384.29L293.53,382.57L295.03,380.83L296.52,379.09L298.02,377.34L299.52,375.57L301.01,373.79L302.51,372L304.01,370.2L305.51,368.38L307,366.56L308.5,364.73L310,362.88L311.5,361.03L312.99,359.16L314.49,357.29L315.99,355.4L317.48,353.51L318.98,351.6L320.48,349.67L321.98,347.66L323.47,345.57L324.97,343.43L326.47,341.29L327.97,339.19L329.46,337.17L330.96,335.27L332.46,333.49L333.95,331.74L335.45,330L336.95,328.29L338.45,326.58L339.94,324.88L341.44,323.2L342.94,321.52L344.43,319.85L345.93,318.18L347.43,316.52L348.93,314.85L350.42,313.19L351.92,311.53L353.42,309.86L354.92,308.18L356.41,306.5L357.91,304.81L359.41,303.11L360.9,301.39L362.4,299.67L363.9,297.93L365.4,296.19L366.89,294.43L368.39,292.66L369.89,290.88L371.39,289.08L372.88,287.27L374.38,285.43L375.88,283.58L377.37,281.7L378.87,279.81L380.37,277.89L381.87,275.95L383.36,273.99L384.86,272.01L386.36,270L387.86,267.98L389.35,265.93L390.85,263.85L392.35,261.74L393.84,259.61L395.34,257.45L396.84,255.25L398.34,253.01L399.83,250.73L401.33,248.42L402.83,246.07L404.32,243.7L405.82,241.32L407.32,238.92L408.82,236.51L410.31,234.1L411.81,231.7L413.31,229.3L414.81,226.91L416.3,224.55L417.8,222.2L417.8,277.7L416.3,278.53L414.81,279.32L413.31,280.09L411.81,280.83L410.31,281.57L408.82,282.31L407.32,283.06L405.82,283.84L404.32,284.64L402.83,285.48L401.33,286.38L399.83,287.33L398.34,288.36L396.84,289.47L395.34,290.67L393.84,291.93L392.35,293.21L390.85,294.5L389.35,295.79L387.86,297.09L386.36,298.4L384.86,299.73L383.36,301.06L381.87,302.4L380.37,303.76L378.87,305.13L377.37,306.51L375.88,307.91L374.38,309.31L372.88,310.74L371.39,312.17L369.89,313.6L368.39,315.03L366.89,316.46L365.4,317.89L363.9,319.33L362.4,320.77L360.9,322.21L359.41,323.65L357.91,325.09L356.41,326.53L354.92,327.96L353.42,329.4L351.92,330.83L350.42,332.26L348.93,333.7L347.43,335.13L345.93,336.57L344.43,338.01L342.94,339.45L341.44,340.89L339.94,342.34L338.45,343.79L336.95,345.25L335.45,346.72L333.95,348.19L332.46,349.67L330.96,351.15L329.46,352.65L327.97,354.16L326.47,355.68L324.97,357.2L323.47,358.73L321.98,360.27L320.48,361.81L318.98,363.35L317.48,364.9L315.99,366.45L314.49,368.02L312.99,369.58L311.5,371.15L310,372.71L308.5,374.28L307,375.83L305.51,377.38L304.01,378.93L302.51,380.46L301.01,381.98L299.52,383.48L298.02,384.97L296.52,386.44L295.03,387.89L293.53,389.33L292.03,390.75L290.53,392.17L289.04,393.59L287.54,395L286.04,396.4L284.54,397.81L283.05,399.22L281.55,400.64L280.05,402.06L279.7,402.4L278.56,403.32L277.06,404.52L275.56,405.71L274.06,406.91L272.57,408.11L271.07,409.31L269.57,410.51L268.08,411.71L266.58,412.91L265.08,414.11L263.58,415.31L262.09,416.51L260.59,417.7L259.09,418.9L257.59,420.1L256.1,421.3L254.6,422.5Z" fill="#F8766D" fill-opacity="0.25"/>
<path d="M254.6,420.7L256.09,419.54L257.58,418.39L259.06,417.23L260.55,416.08L262.04,414.92L263.53,413.77L265.01,412.61L266.5,411.45L267.99,410.3L269.48,409.14L270.97,407.99L272.45,406.83L273.94,405.67L275.43,404.52L276.92,403.36L278.4,402.21L279.7,401.2L279.89,401.01L281.38,399.54L282.87,398.07L284.35,396.61L285.84,395.15L287.33,393.69L288.82,392.23L290.31,390.77L291.79,389.3L293.28,387.83L294.77,386.34L296.26,384.84L297.74,383.33L299.23,381.8L300.72,380.25L302.21,378.69L303.7,377.12L305.18,375.53L306.67,373.93L308.16,372.32L309.65,370.7L311.13,369.06L312.62,367.41L314.11,365.75L315.6,364.07L317.08,362.37L318.57,360.66L320.06,358.93L321.55,357.17L323.04,355.37L324.52,353.54L326.01,351.68L327.5,349.8L328.99,347.9L330.47,345.98L331.96,344.05L333.45,342.11L334.94,340.17L336.43,338.24L337.91,336.31L339.4,334.39L340.89,332.48L342.38,330.56L343.86,328.65L345.35,326.73L346.84,324.82L348.33,322.91L349.82,321.02L351.3,319.13L352.79,317.27L354.28,315.42L355.77,313.6L357.25,311.81L358.74,310.06L360.23,308.32L361.72,306.59L363.2,304.85L364.69,303.11L366.18,301.38L367.67,299.65L369.16,297.93L370.64,296.22L372.13,294.52L373.62,292.83L375.11,291.18L376.59,289.55L378.08,287.96L379.57,286.39L381.06,284.87L382.55,283.38L384.03,281.92L385.52,280.51L387.01,279.13L388.5,277.8L389.98,276.49L391.47,275.2L392.96,273.93L394.45,272.68L395.93,271.43L397.42,270.18L398.91,268.93L400.4,267.66L401.89,266.32L403.37,264.87L404.86,263.35L406.35,261.77L407.84,260.16L409.32,258.53L410.81,256.91L412.3,255.3L412.3,292.7L410.81,293.49L409.32,294.27L407.84,295.02L406.35,295.76L404.86,296.51L403.37,297.25L401.89,298.02L400.4,298.8L398.91,299.61L397.42,300.44L395.93,301.3L394.45,302.19L392.96,303.11L391.47,304.07L389.98,305.05L388.5,306.08L387.01,307.15L385.52,308.27L384.03,309.43L382.55,310.63L381.06,311.87L379.57,313.14L378.08,314.44L376.59,315.76L375.11,317.11L373.62,318.46L372.13,319.83L370.64,321.16L369.16,322.48L367.67,323.77L366.18,325.04L364.69,326.3L363.2,327.53L361.72,328.75L360.23,329.95L358.74,331.15L357.25,332.36L355.77,333.6L354.28,334.88L352.79,336.19L351.3,337.53L349.82,338.91L348.33,340.32L346.84,341.76L345.35,343.23L343.86,344.73L342.38,346.22L340.89,347.72L339.4,349.2L337.91,350.7L336.43,352.21L334.94,353.74L333.45,355.27L331.96,356.8L330.47,358.34L328.99,359.88L327.5,361.42L326.01,362.95L324.52,364.47L323.04,365.97L321.55,367.47L320.06,368.94L318.57,370.4L317.08,371.84L315.6,373.28L314.11,374.7L312.62,376.12L311.13,377.53L309.65,378.93L308.16,380.34L306.67,381.73L305.18,383.13L303.7,384.53L302.21,385.92L300.72,387.32L299.23,388.72L297.74,390.12L296.26,391.5L294.77,392.88L293.28,394.25L291.79,395.62L290.31,396.99L288.82,398.35L287.33,399.71L285.84,401.07L284.35,402.43L282.87,403.79L281.38,405.16L279.89,406.52L279.7,406.7L278.4,407.57L276.92,408.56L275.43,409.56L273.94,410.55L272.45,411.55L270.97,412.55L269.48,413.54L267.99,414.54L266.5,415.53L265.01,416.53L263.53,417.53L262.04,418.52L260.55,419.52L259.06,420.51L257.58,421.51L256.09,422.5L254.6,423.5Z" fill="#00BA38" fill-opacity="0.25"/>
<path d="M254.6,418.3L256.09,416.84L257.59,415.37L259.08,413.91L260.58,412.44L262.07,410.98L263.56,409.51L265.06,408.05L266.55,406.59L268.05,405.12L269.54,403.66L271.03,402.19L272.53,400.73L274.02,399.27L275.52,397.8L277.01,396.34L278.5,394.87L279.7,393.7L280,393.36L281.49,391.67L282.99,389.98L284.48,388.28L285.97,386.58L287.47,384.88L288.96,383.18L290.46,381.48L291.95,379.77L293.44,378.07L294.94,376.37L296.43,374.68L297.93,372.98L299.42,371.3L300.91,369.61L302.41,367.94L303.9,366.27L305.4,364.6L306.89,362.94L308.38,361.29L309.88,359.64L311.37,358L312.87,356.36L314.36,354.72L315.85,353.09L317.35,351.47L318.84,349.85L320.34,348.24L321.83,346.63L323.32,345.02L324.82,343.42L326.31,341.82L327.81,340.22L329.3,338.62L330.79,337.02L332.29,335.42L333.78,333.81L335.28,332.2L336.77,330.58L338.26,328.95L339.76,327.32L341.25,325.66L342.75,323.98L344.24,322.26L345.73,320.53L347.23,318.79L348.72,317.05L350.22,315.31L351.71,313.59L353.2,311.9L354.7,310.24L356.19,308.61L357.68,307.05L359.18,305.53L360.67,304.06L362.17,302.6L363.66,301.15L365.15,299.71L366.65,298.27L368.14,296.84L369.64,295.42L371.13,294L372.62,292.59L374.12,291.2L375.61,289.81L377.11,288.44L378.6,287.08L380.09,285.73L381.59,284.39L383.08,283.07L384.58,281.77L386.07,280.47L387.56,279.2L389.06,277.93L390.55,276.66L392.05,275.37L393.54,274.06L395.03,272.75L396.53,271.43L398.02,270.12L399.52,268.82L401.01,267.53L402.5,266.26L404,265.02L405.49,263.81L406.99,262.64L408.48,261.51L409.97,260.43L411.47,259.41L412.96,258.44L414.46,257.49L415.95,256.56L417.44,255.64L418.94,254.75L420.43,253.87L421.93,253.01L423.42,252.16L424.91,251.33L426.41,250.52L427.9,249.72L429.4,248.93L430.89,248.16L432.38,247.4L433.88,246.66L435.37,245.93L436.87,245.21L438.36,244.52L439.85,243.85L441.35,243.18L442.84,242.53L444.34,241.89L445.83,241.24L447.32,240.61L448.82,239.96L450.31,239.32L451.81,238.66L453.3,238L453.3,258L451.81,258.59L450.31,259.18L448.82,259.76L447.32,260.34L445.83,260.93L444.34,261.51L442.84,262.1L441.35,262.7L439.85,263.31L438.36,263.93L436.87,264.57L435.37,265.23L433.88,265.91L432.38,266.6L430.89,267.29L429.4,268L427.9,268.72L426.41,269.45L424.91,270.2L423.42,270.95L421.93,271.71L420.43,272.49L418.94,273.27L417.44,274.07L415.95,274.87L414.46,275.69L412.96,276.52L411.47,277.35L409.97,278.16L408.48,278.94L406.99,279.69L405.49,280.41L404,281.13L402.5,281.83L401.01,282.54L399.52,283.25L398.02,283.98L396.53,284.72L395.03,285.49L393.54,286.29L392.05,287.12L390.55,288.01L389.06,288.94L387.56,289.91L386.07,290.9L384.58,291.9L383.08,292.91L381.59,293.95L380.09,295.01L378.6,296.09L377.11,297.19L375.61,298.32L374.12,299.47L372.62,300.64L371.13,301.84L369.64,303.07L368.14,304.33L366.65,305.61L365.15,306.93L363.66,308.27L362.17,309.64L360.67,311.05L359.18,312.48L357.68,313.96L356.19,315.5L354.7,317.09L353.2,318.73L351.71,320.4L350.22,322.09L348.72,323.81L347.23,325.53L345.73,327.25L344.24,328.97L342.75,330.67L341.25,332.34L339.76,333.98L338.26,335.6L336.77,337.21L335.28,338.82L333.78,340.41L332.29,342.01L330.79,343.59L329.3,345.18L327.81,346.76L326.31,348.33L324.82,349.91L323.32,351.49L321.83,353.07L320.34,354.65L318.84,356.23L317.35,357.8L315.85,359.38L314.36,360.95L312.87,362.52L311.37,364.09L309.88,365.66L308.38,367.22L306.89,368.79L305.4,370.36L303.9,371.93L302.41,373.51L300.91,375.08L299.42,376.66L297.93,378.24L296.43,379.83L294.94,381.42L293.44,383.01L291.95,384.6L290.46,386.2L288.96,387.79L287.47,389.39L285.97,390.99L284.48,392.59L282.99,394.19L281.49,395.78L280,397.38L279.7,397.7L278.5,398.8L277.01,400.17L275.52,401.53L274.02,402.9L272.53,404.27L271.03,405.64L269.54,407.01L268.05,408.38L266.55,409.75L265.06,411.12L263.56,412.49L262.07,413.86L260.58,415.22L259.08,416.59L257.59,417.96L256.09,419.33L254.6,420.7Z" fill="#619CFF" fill-opacity="0.25"/>
<line x1="417.8" y1="223.2" x2="417.8" y2="278.7" stroke="#F8766D" stroke-width="1.3"/>
<line x1="412.3" y1="255.3" x2="412.3" y2="292.7" stroke="#00BA38" stroke-width="1.3"/>
<line x1="453.4" y1="238" x2="453.4" y2="258" stroke="#619CFF" stroke-width="1.3"/>
<path d="M417.8,242.6L421.7,249.6L413.9,249.6Z" fill="#F8766D" stroke="#F8766D" stroke-width="0.4"/>
<path d="M412.3,270.5L416.2,274.4L412.3,278.3L408.4,274.4Z" fill="#00BA38" stroke="#00BA38" stroke-width="1.2"/>
<circle cx="453.4" cy="248.4" r="3.9" fill="#619CFF" stroke="#619CFF" stroke-width="1.2"/>
<line x1="252.5" y1="222.3" x2="252.5" y2="437.3" stroke="#b3b3b3" stroke-width="1"/>
<line x1="252" y1="437.3" x2="458" y2="437.3" stroke="#b3b3b3" stroke-width="1"/>
<line x1="249.7" y1="403.7" x2="252.5" y2="403.7" stroke="#666" stroke-width="0.8"/>
<text transform="translate(248.2,404.1) rotate(-90) scale(1,1.12)" font-size="9.2" fill="#333" text-anchor="middle">5</text>
<line x1="249.7" y1="360.4" x2="252.5" y2="360.4" stroke="#666" stroke-width="0.8"/>
<text transform="translate(248.2,360.8) rotate(-90) scale(1,1.12)" font-size="9.2" fill="#333" text-anchor="middle">10</text>
<line x1="249.7" y1="317.1" x2="252.5" y2="317.1" stroke="#666" stroke-width="0.8"/>
<text transform="translate(248.2,317.5) rotate(-90) scale(1,1.12)" font-size="9.2" fill="#333" text-anchor="middle">15</text>
<line x1="249.7" y1="273.8" x2="252.5" y2="273.8" stroke="#666" stroke-width="0.8"/>
<text transform="translate(248.2,274.2) rotate(-90) scale(1,1.12)" font-size="9.2" fill="#333" text-anchor="middle">20</text>
<line x1="249.7" y1="230.5" x2="252.5" y2="230.5" stroke="#666" stroke-width="0.8"/>
<text transform="translate(248.2,230.9) rotate(-90) scale(1,1.12)" font-size="9.2" fill="#333" text-anchor="middle">25</text>
<line x1="254.8" y1="437.3" x2="254.8" y2="440.1" stroke="#666" stroke-width="0.8"/>
<text x="254.8" y="451.1" font-size="9" fill="#333" text-anchor="middle">1</text>
<line x1="279.7" y1="437.3" x2="279.7" y2="440.1" stroke="#666" stroke-width="0.8"/>
<text x="279.7" y="451.1" font-size="9" fill="#333" text-anchor="middle">2</text>
<line x1="312.6" y1="437.3" x2="312.6" y2="440.1" stroke="#666" stroke-width="0.8"/>
<text x="312.6" y="451.1" font-size="9" fill="#333" text-anchor="middle">5</text>
<line x1="337.5" y1="437.3" x2="337.5" y2="440.1" stroke="#666" stroke-width="0.8"/>
<text x="337.5" y="451.1" font-size="9" fill="#333" text-anchor="middle">10</text>
<line x1="362.4" y1="437.3" x2="362.4" y2="440.1" stroke="#666" stroke-width="0.8"/>
<text x="362.4" y="451.1" font-size="9" fill="#333" text-anchor="middle">20</text>
<line x1="395.3" y1="437.3" x2="395.3" y2="440.1" stroke="#666" stroke-width="0.8"/>
<text x="395.3" y="451.1" font-size="9" fill="#333" text-anchor="middle">50</text>
<line x1="420.2" y1="437.3" x2="420.2" y2="440.1" stroke="#666" stroke-width="0.8"/>
<text x="420.2" y="451.1" font-size="9" fill="#333" text-anchor="middle">100</text>
<line x1="445.1" y1="437.3" x2="445.1" y2="440.1" stroke="#666" stroke-width="0.8"/>
<text x="445.1" y="451.1" font-size="9" fill="#333" text-anchor="middle">200</text>
<text x="256.6" y="232.5" font-size="15.2" fill="#000">Bumblebees</text>
<text x="257.8" y="242.8" font-size="12.4" fill="#1a1a1a">period: second</text>
<path d="M481.3,431L505.6,421.5L507.15,420.44L508.7,419.41L510.25,418.38L511.8,417.37L513.35,416.36L514.9,415.36L516.45,414.37L518,413.37L519.55,412.36L521.1,411.35L522.65,410.33L524.2,409.3L525.75,408.25L527.3,407.18L528.85,406.09L530.4,404.98L531.95,403.83L533.5,402.66L535.05,401.45L536.6,400.2L538.16,398.89L539.72,397.53L541.28,396.12L542.84,394.65L544.41,393.15L545.97,391.61L547.53,390.03L549.09,388.43L550.65,386.81L552.21,385.18L553.77,383.53L555.33,381.87L556.89,380.22L558.46,378.56L560.02,376.92L561.58,375.29L563.14,373.68L564.7,372.1L566.28,370.51L567.86,368.93L569.44,367.35L571.03,365.77L572.61,364.2L574.19,362.62L575.77,361.04L577.35,359.46L578.93,357.87L580.51,356.28L582.09,354.67L583.67,353.06L585.26,351.44L586.84,349.81L588.42,348.16L590,346.5L591.54,344.87L593.08,343.22L594.62,341.55L596.15,339.87L597.69,338.19L599.23,336.49L600.77,334.78L602.31,333.07L603.85,331.36L605.38,329.64L606.92,327.92L608.46,326.21L610,324.5L611.54,322.8L613.08,321.11L614.62,319.42L616.15,317.74L617.69,316.06L619.23,314.37L620.77,312.68L622.31,310.97L623.85,309.24L625.38,307.5L626.92,305.73L628.46,303.93L630,302.1L631.57,300.19L633.13,298.23L634.7,296.24L636.27,294.22L637.83,292.17L639.4,290.12L640.97,288.07L642.53,286.02L644.1,284" fill="none" stroke="#F8766D" stroke-width="0.9" stroke-linejoin="round"/>
<path d="M481.3,426.8L505.6,413L507.15,411.65L508.69,410.3L510.24,408.95L511.79,407.61L513.34,406.26L514.88,404.92L516.43,403.57L517.98,402.23L519.52,400.88L521.07,399.53L522.62,398.18L524.16,396.83L525.71,395.47L527.26,394.11L528.81,392.74L530.35,391.37L531.9,390L533.46,388.61L535.02,387.2L536.59,385.8L538.15,384.38L539.71,382.97L541.27,381.54L542.83,380.12L544.4,378.69L545.96,377.26L547.52,375.83L549.08,374.4L550.64,372.97L552.2,371.54L553.77,370.11L555.33,368.68L556.89,367.26L558.45,365.83L560.01,364.42L561.58,363.01L563.14,361.6L564.7,360.2L566.28,358.8L567.86,357.41L569.44,356.04L571.03,354.67L572.61,353.32L574.19,351.96L575.77,350.61L577.35,349.26L578.93,347.89L580.51,346.52L582.09,345.14L583.67,343.74L585.26,342.32L586.84,340.87L588.42,339.4L590,337.9L591.54,336.41L593.08,334.89L594.62,333.34L596.15,331.77L597.69,330.18L599.23,328.57L600.77,326.95L602.31,325.31L603.85,323.66L605.38,322L606.92,320.34L608.46,318.67L610,317L611.63,315.22L613.27,313.42L614.9,311.6L616.53,309.77L618.17,307.93L619.8,306.08L621.43,304.22L623.07,302.36L624.7,300.5L626.23,298.74L627.77,296.98L629.3,295.2L630.83,293.42L632.37,291.64L633.9,289.85L635.43,288.07L636.97,286.28L638.5,284.5" fill="none" stroke="#00BA38" stroke-width="0.9" stroke-linejoin="round"/>
<path d="M481.3,422.6L505.6,403.4L507.13,402.17L508.65,400.96L510.18,399.74L511.71,398.54L513.23,397.34L514.76,396.14L516.29,394.95L517.82,393.76L519.34,392.57L520.87,391.38L522.4,390.18L523.92,388.99L525.45,387.79L526.98,386.59L528.5,385.38L530.03,384.16L531.56,382.94L533.08,381.71L534.61,380.46L536.14,379.21L537.67,377.94L539.19,376.67L540.72,375.37L542.25,374.07L543.77,372.74L545.3,371.4L546.92,369.96L548.53,368.49L550.15,366.99L551.77,365.48L553.38,363.94L555,362.39L556.62,360.82L558.23,359.24L559.85,357.64L561.47,356.04L563.08,354.42L564.7,352.8L566.28,351.2L567.86,349.59L569.44,347.96L571.03,346.31L572.61,344.65L574.19,342.98L575.77,341.3L577.35,339.61L578.93,337.92L580.51,336.22L582.09,334.51L583.67,332.81L585.26,331.1L586.84,329.4L588.42,327.7L590,326L591.5,324.39L593,322.78L594.5,321.16L596,319.54L597.5,317.92L599,316.29L600.5,314.66L602,313.03L603.5,311.4L605,309.77L606.5,308.14L608,306.51L609.5,304.88L611,303.25L612.5,301.63L614,300L615.55,298.31L617.11,296.62L618.66,294.93L620.22,293.23L621.77,291.54L623.33,289.85L624.88,288.16L626.44,286.48L627.99,284.81L629.55,283.15L631.1,281.5L632.68,279.83L634.25,278.15L635.83,276.48L637.4,274.8L638.98,273.13L640.55,271.47L642.12,269.83L643.7,268.2L645.27,266.6L646.85,265.03L648.42,263.5L650,262L651.53,260.58L653.06,259.18L654.59,257.81L656.13,256.46L657.66,255.13L659.19,253.82L660.72,252.52L662.25,251.23L663.78,249.96L665.32,248.69L666.85,247.43L668.38,246.18L669.91,244.92L671.44,243.67L672.97,242.41L674.51,241.15L676.04,239.87L677.57,238.59L679.1,237.3" fill="none" stroke="#619CFF" stroke-width="0.9" stroke-linejoin="round"/>
<path d="M481.3,429.7L482.79,429.07L484.29,428.45L485.78,427.82L487.27,427.19L488.77,426.57L490.26,425.94L491.76,425.31L493.25,424.68L494.74,424.06L496.24,423.43L497.73,422.8L499.22,422.18L500.72,421.55L502.21,420.92L503.7,420.3L505.2,419.67L505.6,419.5L506.69,418.72L508.18,417.67L509.68,416.62L511.17,415.6L512.67,414.58L514.16,413.56L515.65,412.55L517.15,411.54L518.64,410.53L520.13,409.51L521.63,408.48L523.12,407.45L524.61,406.4L526.11,405.33L527.6,404.25L529.09,403.15L530.59,402.02L532.08,400.86L533.58,399.68L535.07,398.46L536.56,397.21L538.06,395.91L539.55,394.57L541.04,393.17L542.54,391.74L544.03,390.26L545.52,388.75L547.02,387.21L548.51,385.64L550,384.06L551.5,382.45L552.99,380.83L554.49,379.2L555.98,377.56L557.47,375.92L558.97,374.29L560.46,372.66L561.95,371.05L563.45,369.44L564.94,367.86L566.43,366.28L567.93,364.7L569.42,363.1L570.91,361.5L572.41,359.89L573.9,358.27L575.4,356.64L576.89,355.01L578.38,353.38L579.88,351.74L581.37,350.09L582.86,348.44L584.36,346.78L585.85,345.12L587.34,343.46L588.84,341.8L590.33,340.13L591.82,338.45L593.32,336.76L594.81,335.07L596.31,333.36L597.8,331.65L599.29,329.92L600.79,328.2L602.28,326.47L603.77,324.73L605.27,323L606.76,321.26L608.25,319.53L609.75,317.79L611.24,316.07L612.73,314.36L614.23,312.67L615.72,310.98L617.22,309.3L618.71,307.61L620.2,305.91L621.7,304.19L623.19,302.46L624.68,300.69L626.18,298.89L627.67,297.05L629.16,295.17L630.66,293.2L632.15,291.02L633.64,288.59L635.14,286L636.63,283.26L638.13,280.44L639.62,277.57L641.11,274.71L642.61,271.91L644.1,269.2L644.1,301.1L642.61,302.03L641.11,302.87L639.62,303.66L638.13,304.43L636.63,305.25L635.14,306.15L633.64,307.2L632.15,308.42L630.66,309.89L629.16,311.56L627.67,313.26L626.18,314.94L624.68,316.6L623.19,318.25L621.7,319.89L620.2,321.52L618.71,323.14L617.22,324.76L615.72,326.36L614.23,327.97L612.73,329.57L611.24,331.17L609.75,332.77L608.25,334.37L606.76,335.95L605.27,337.53L603.77,339.09L602.28,340.65L600.79,342.2L599.29,343.73L597.8,345.25L596.31,346.76L594.81,348.26L593.32,349.75L591.82,351.22L590.33,352.68L588.84,354.12L587.34,355.53L585.85,356.93L584.36,358.3L582.86,359.66L581.37,361.01L579.88,362.34L578.38,363.67L576.89,364.99L575.4,366.32L573.9,367.65L572.41,368.98L570.91,370.32L569.42,371.68L567.93,373.05L566.43,374.44L564.94,375.86L563.45,377.29L561.95,378.76L560.46,380.25L558.97,381.75L557.47,383.27L555.98,384.8L554.49,386.33L552.99,387.86L551.5,389.39L550,390.9L548.51,392.4L547.02,393.88L545.52,395.34L544.03,396.76L542.54,398.15L541.04,399.49L539.55,400.8L538.06,402.05L536.56,403.25L535.07,404.4L533.58,405.52L532.08,406.6L530.59,407.66L529.09,408.69L527.6,409.69L526.11,410.68L524.61,411.64L523.12,412.59L521.63,413.53L520.13,414.46L518.64,415.38L517.15,416.3L515.65,417.21L514.16,418.12L512.67,419.04L511.17,419.96L509.68,420.89L508.18,421.84L506.69,422.79L505.6,423.5L505.2,423.65L503.7,424.19L502.21,424.73L500.72,425.27L499.22,425.81L497.73,426.35L496.24,426.89L494.74,427.43L493.25,427.97L491.76,428.51L490.26,429.05L488.77,429.6L487.27,430.14L485.78,430.68L484.29,431.22L482.79,431.76L481.3,432.3Z" fill="#F8766D" fill-opacity="0.25"/>
<path d="M481.3,425.5L482.8,424.61L484.29,423.71L485.79,422.82L487.29,421.93L488.79,421.03L490.28,420.14L491.78,419.25L493.28,418.35L494.77,417.46L496.27,416.57L497.77,415.67L499.27,414.78L500.76,413.89L502.26,412.99L503.76,412.1L505.25,411.21L505.6,411L506.75,409.96L508.25,408.61L509.75,407.26L511.24,405.91L512.74,404.56L514.24,403.22L515.73,401.87L517.23,400.52L518.73,399.17L520.23,397.82L521.72,396.47L523.22,395.12L524.72,393.76L526.21,392.4L527.71,391.04L529.21,389.67L530.71,388.3L532.2,386.93L533.7,385.55L535.2,384.17L536.69,382.78L538.19,381.39L539.69,379.99L541.19,378.6L542.68,377.2L544.18,375.8L545.68,374.4L547.17,373.01L548.67,371.61L550.17,370.22L551.67,368.82L553.16,367.43L554.66,366.03L556.16,364.64L557.65,363.25L559.15,361.85L560.65,360.46L562.15,359.08L563.64,357.69L565.14,356.3L566.64,354.92L568.13,353.54L569.63,352.15L571.13,350.76L572.63,349.36L574.12,347.96L575.62,346.55L577.12,345.13L578.61,343.71L580.11,342.27L581.61,340.82L583.11,339.35L584.6,337.87L586.1,336.38L587.6,334.86L589.09,333.33L590.59,331.78L592.09,330.21L593.59,328.62L595.08,327.02L596.58,325.39L598.08,323.74L599.57,322.07L601.07,320.39L602.57,318.69L604.07,316.97L605.56,315.24L607.06,313.49L608.56,311.72L610.05,309.93L611.55,308.12L613.05,306.25L614.55,304.35L616.04,302.4L617.54,300.42L619.04,298.41L620.53,296.37L622.03,294.31L623.53,292.22L625.03,290.12L626.52,287.96L628.02,285.73L629.52,283.43L631.01,281.08L632.51,278.71L634.01,276.31L635.51,273.92L637,271.55L638.5,269.2L638.5,301.1L637,302.07L635.51,303.01L634.01,303.93L632.51,304.84L631.01,305.78L629.52,306.76L628.02,307.8L626.52,308.92L625.03,310.14L623.53,311.43L622.03,312.74L620.53,314.08L619.04,315.44L617.54,316.82L616.04,318.22L614.55,319.63L613.05,321.06L611.55,322.5L610.05,323.95L608.56,325.41L607.06,326.89L605.56,328.38L604.07,329.87L602.57,331.37L601.07,332.86L599.57,334.35L598.08,335.82L596.58,337.28L595.08,338.72L593.59,340.13L592.09,341.52L590.59,342.87L589.09,344.19L587.6,345.47L586.1,346.72L584.6,347.94L583.11,349.14L581.61,350.31L580.11,351.48L578.61,352.63L577.12,353.78L575.62,354.93L574.12,356.08L572.63,357.24L571.13,358.41L569.63,359.6L568.13,360.81L566.64,362.05L565.14,363.31L563.64,364.61L562.15,365.91L560.65,367.22L559.15,368.55L557.65,369.87L556.16,371.21L554.66,372.55L553.16,373.89L551.67,375.24L550.17,376.59L548.67,377.94L547.17,379.28L545.68,380.63L544.18,381.97L542.68,383.31L541.19,384.65L539.69,385.98L538.19,387.3L536.69,388.62L535.2,389.93L533.7,391.23L532.2,392.53L530.71,393.82L529.21,395.1L527.71,396.38L526.21,397.66L524.72,398.92L523.22,400.19L521.72,401.45L520.23,402.71L518.73,403.97L517.23,405.23L515.73,406.48L514.24,407.74L512.74,408.99L511.24,410.25L509.75,411.51L508.25,412.77L506.75,414.03L505.6,415L505.25,415.19L503.76,415.99L502.26,416.8L500.76,417.61L499.27,418.41L497.77,419.22L496.27,420.03L494.77,420.84L493.28,421.64L491.78,422.45L490.28,423.26L488.79,424.06L487.29,424.87L485.79,425.68L484.29,426.49L482.8,427.29L481.3,428.1Z" fill="#00BA38" fill-opacity="0.25"/>
<path d="M481.3,421.4L482.8,420.2L484.3,418.99L485.8,417.79L487.29,416.59L488.79,415.39L490.29,414.18L491.79,412.98L493.29,411.78L494.79,410.57L496.28,409.37L497.78,408.17L499.28,406.97L500.78,405.76L502.28,404.56L503.78,403.36L505.28,402.16L505.6,401.89L506.77,400.94L508.27,399.72L509.77,398.51L511.27,397.31L512.77,396.11L514.27,394.92L515.77,393.73L517.26,392.54L518.76,391.35L520.26,390.16L521.76,388.97L523.26,387.78L524.76,386.59L526.25,385.39L527.75,384.19L529.25,382.98L530.75,381.77L532.25,380.54L533.75,379.31L535.25,378.07L536.74,376.81L538.24,375.55L539.74,374.27L541.24,372.98L542.74,371.67L544.24,370.35L545.73,369L547.23,367.62L548.73,366.22L550.23,364.81L551.73,363.37L553.23,361.92L554.73,360.45L556.22,358.97L557.72,357.47L559.22,355.96L560.72,354.43L562.22,352.89L563.72,351.34L565.22,349.77L566.71,348.14L568.21,346.44L569.71,344.68L571.21,342.88L572.71,341.06L574.21,339.23L575.7,337.42L577.2,335.64L578.7,333.92L580.2,332.25L581.7,330.62L583.2,328.98L584.7,327.35L586.19,325.73L587.69,324.1L589.19,322.48L590.69,320.87L592.19,319.25L593.69,317.63L595.18,316.01L596.68,314.38L598.18,312.75L599.68,311.12L601.18,309.49L602.68,307.85L604.18,306.22L605.67,304.58L607.17,302.94L608.67,301.29L610.17,299.65L611.67,298.01L613.17,296.36L614.67,294.72L616.16,293.07L617.66,291.41L619.16,289.75L620.66,288.08L622.16,286.41L623.66,284.75L625.15,283.08L626.65,281.41L628.15,279.75L629.65,278.09L631.15,276.44L632.65,274.76L634.15,273.02L635.64,271.24L637.14,269.42L638.64,267.58L640.14,265.73L641.64,263.87L643.14,262.03L644.63,260.21L646.13,258.41L647.63,256.66L649.13,254.96L650.63,253.32L652.13,251.71L653.63,250.13L655.12,248.58L656.62,247.04L658.12,245.53L659.62,244.03L661.12,242.55L662.62,241.08L664.12,239.62L665.61,238.17L667.11,236.73L668.61,235.29L670.11,233.84L671.61,232.4L673.11,230.96L674.6,229.51L676.1,228.05L677.6,226.58L679.1,225.1L679.1,248.8L677.6,249.88L676.1,250.96L674.6,252.03L673.11,253.09L671.61,254.14L670.11,255.19L668.61,256.24L667.11,257.29L665.61,258.35L664.12,259.41L662.62,260.47L661.12,261.55L659.62,262.63L658.12,263.73L656.62,264.85L655.12,265.98L653.63,267.13L652.13,268.3L650.63,269.49L649.13,270.71L647.63,271.95L646.13,273.21L644.63,274.49L643.14,275.8L641.64,277.12L640.14,278.47L638.64,279.83L637.14,281.22L635.64,282.62L634.15,284.05L632.65,285.49L631.15,286.96L629.65,288.44L628.15,289.94L626.65,291.45L625.15,292.98L623.66,294.51L622.16,296.06L620.66,297.61L619.16,299.17L617.66,300.74L616.16,302.31L614.67,303.88L613.17,305.46L611.67,307.05L610.17,308.66L608.67,310.27L607.17,311.88L605.67,313.5L604.18,315.12L602.68,316.74L601.18,318.36L599.68,319.98L598.18,321.6L596.68,323.21L595.18,324.83L593.69,326.44L592.19,328.05L590.69,329.65L589.19,331.25L587.69,332.85L586.19,334.46L584.7,336.06L583.2,337.66L581.7,339.26L580.2,340.86L578.7,342.41L577.2,343.89L575.7,345.32L574.21,346.69L572.71,348.03L571.21,349.36L569.71,350.68L568.21,352.02L566.71,353.39L565.22,354.79L563.72,356.23L562.22,357.68L560.72,359.13L559.22,360.57L557.72,362L556.22,363.43L554.73,364.85L553.23,366.26L551.73,367.66L550.23,369.03L548.73,370.39L547.23,371.72L545.73,373.03L544.24,374.33L542.74,375.61L541.24,376.88L539.74,378.14L538.24,379.38L536.74,380.61L535.25,381.82L533.75,383.03L532.25,384.22L530.75,385.41L529.25,386.58L527.75,387.76L526.25,388.92L524.76,390.08L523.26,391.24L521.76,392.39L520.26,393.54L518.76,394.69L517.26,395.84L515.77,396.99L514.27,398.14L512.77,399.3L511.27,400.46L509.77,401.63L508.27,402.8L506.77,403.98L505.6,404.91L505.28,405.16L503.78,406.32L502.28,407.49L500.78,408.65L499.28,409.82L497.78,410.98L496.28,412.15L494.79,413.31L493.29,414.48L491.79,415.64L490.29,416.81L488.79,417.97L487.29,419.14L485.8,420.3L484.3,421.47L482.8,422.63L481.3,423.8Z" fill="#619CFF" fill-opacity="0.25"/>
<line x1="644.1" y1="269.2" x2="644.1" y2="301.1" stroke="#F8766D" stroke-width="1.3"/>
<line x1="638.5" y1="269.2" x2="638.5" y2="301.1" stroke="#00BA38" stroke-width="1.3"/>
<line x1="679.1" y1="225.1" x2="679.1" y2="248.8" stroke="#619CFF" stroke-width="1.3"/>
<path d="M644.1,279.6L648,286.6L640.2,286.6Z" fill="#F8766D" stroke="#F8766D" stroke-width="0.4"/>
<path d="M638.5,280.6L642.4,284.5L638.5,288.4L634.6,284.5Z" fill="#00BA38" stroke="#00BA38" stroke-width="1.2"/>
<circle cx="679.1" cy="237.3" r="3.9" fill="#619CFF" stroke="#619CFF" stroke-width="1.2"/>
<line x1="477.5" y1="222.3" x2="477.5" y2="437.3" stroke="#b3b3b3" stroke-width="1"/>
<line x1="477" y1="437.3" x2="683.7" y2="437.3" stroke="#b3b3b3" stroke-width="1"/>
<line x1="474.7" y1="415.4" x2="477.5" y2="415.4" stroke="#666" stroke-width="0.8"/>
<text transform="translate(473.2,415.8) rotate(-90) scale(1,1.12)" font-size="9.2" fill="#333" text-anchor="middle">10</text>
<line x1="474.7" y1="383.5" x2="477.5" y2="383.5" stroke="#666" stroke-width="0.8"/>
<text transform="translate(473.2,383.9) rotate(-90) scale(1,1.12)" font-size="9.2" fill="#333" text-anchor="middle">20</text>
<line x1="474.7" y1="351.6" x2="477.5" y2="351.6" stroke="#666" stroke-width="0.8"/>
<text transform="translate(473.2,352) rotate(-90) scale(1,1.12)" font-size="9.2" fill="#333" text-anchor="middle">30</text>
<line x1="474.7" y1="319.7" x2="477.5" y2="319.7" stroke="#666" stroke-width="0.8"/>
<text transform="translate(473.2,320.1) rotate(-90) scale(1,1.12)" font-size="9.2" fill="#333" text-anchor="middle">40</text>
<line x1="474.7" y1="287.8" x2="477.5" y2="287.8" stroke="#666" stroke-width="0.8"/>
<text transform="translate(473.2,288.2) rotate(-90) scale(1,1.12)" font-size="9.2" fill="#333" text-anchor="middle">50</text>
<line x1="474.7" y1="255.9" x2="477.5" y2="255.9" stroke="#666" stroke-width="0.8"/>
<text transform="translate(473.2,256.3) rotate(-90) scale(1,1.12)" font-size="9.2" fill="#333" text-anchor="middle">60</text>
<line x1="474.7" y1="224" x2="477.5" y2="224" stroke="#666" stroke-width="0.8"/>
<text transform="translate(473.2,224.4) rotate(-90) scale(1,1.12)" font-size="9.2" fill="#333" text-anchor="middle">70</text>
<line x1="480.7" y1="437.3" x2="480.7" y2="440.1" stroke="#666" stroke-width="0.8"/>
<text x="480.7" y="451.1" font-size="9" fill="#333" text-anchor="middle">1</text>
<line x1="505.6" y1="437.3" x2="505.6" y2="440.1" stroke="#666" stroke-width="0.8"/>
<text x="505.6" y="451.1" font-size="9" fill="#333" text-anchor="middle">2</text>
<line x1="538.5" y1="437.3" x2="538.5" y2="440.1" stroke="#666" stroke-width="0.8"/>
<text x="538.5" y="451.1" font-size="9" fill="#333" text-anchor="middle">5</text>
<line x1="563.4" y1="437.3" x2="563.4" y2="440.1" stroke="#666" stroke-width="0.8"/>
<text x="563.4" y="451.1" font-size="9" fill="#333" text-anchor="middle">10</text>
<line x1="588.3" y1="437.3" x2="588.3" y2="440.1" stroke="#666" stroke-width="0.8"/>
<text x="588.3" y="451.1" font-size="9" fill="#333" text-anchor="middle">20</text>
<line x1="621.2" y1="437.3" x2="621.2" y2="440.1" stroke="#666" stroke-width="0.8"/>
<text x="621.2" y="451.1" font-size="9" fill="#333" text-anchor="middle">50</text>
<line x1="646.1" y1="437.3" x2="646.1" y2="440.1" stroke="#666" stroke-width="0.8"/>
<text x="646.1" y="451.1" font-size="9" fill="#333" text-anchor="middle">100</text>
<line x1="671" y1="437.3" x2="671" y2="440.1" stroke="#666" stroke-width="0.8"/>
<text x="671" y="451.1" font-size="9" fill="#333" text-anchor="middle">200</text>
<text x="482.8" y="232.5" font-size="15.2" fill="#000">Plants</text>
<text x="483.8" y="242.8" font-size="12.4" fill="#1a1a1a">period: second</text>
<line x1="569" y1="399.2" x2="596.6" y2="399.2" stroke="#F8766D" stroke-width="1.1"/>
<path d="M582.8,394L588.4,402.8L577.2,402.8Z" fill="#F8766D" stroke="#F8766D" stroke-width="1.1"/>
<text x="601.8" y="402.9" font-size="9.4" fill="#1a1a1a">no AES</text>
<line x1="569" y1="411.95" x2="596.6" y2="411.95" stroke="#00BA38" stroke-width="1.1"/>
<path d="M582.8,407.95L586.6,411.95L582.8,415.95L579,411.95Z" fill="#00BA38" stroke="#00BA38" stroke-width="1.1"/>
<text x="601.8" y="415.65" font-size="9.4" fill="#1a1a1a">AES general values</text>
<line x1="569" y1="424.7" x2="596.6" y2="424.7" stroke="#619CFF" stroke-width="1.1"/>
<circle cx="582.8" cy="424.7" r="4.1" fill="#619CFF" stroke="#619CFF" stroke-width="1.1"/>
<text x="601.8" y="428.4" font-size="9.4" fill="#1a1a1a">AES specias values</text>
<text x="356.7" y="466.7" font-size="12.3" fill="#000" text-anchor="middle">Number of grasslands</text>
</svg></body></html>
